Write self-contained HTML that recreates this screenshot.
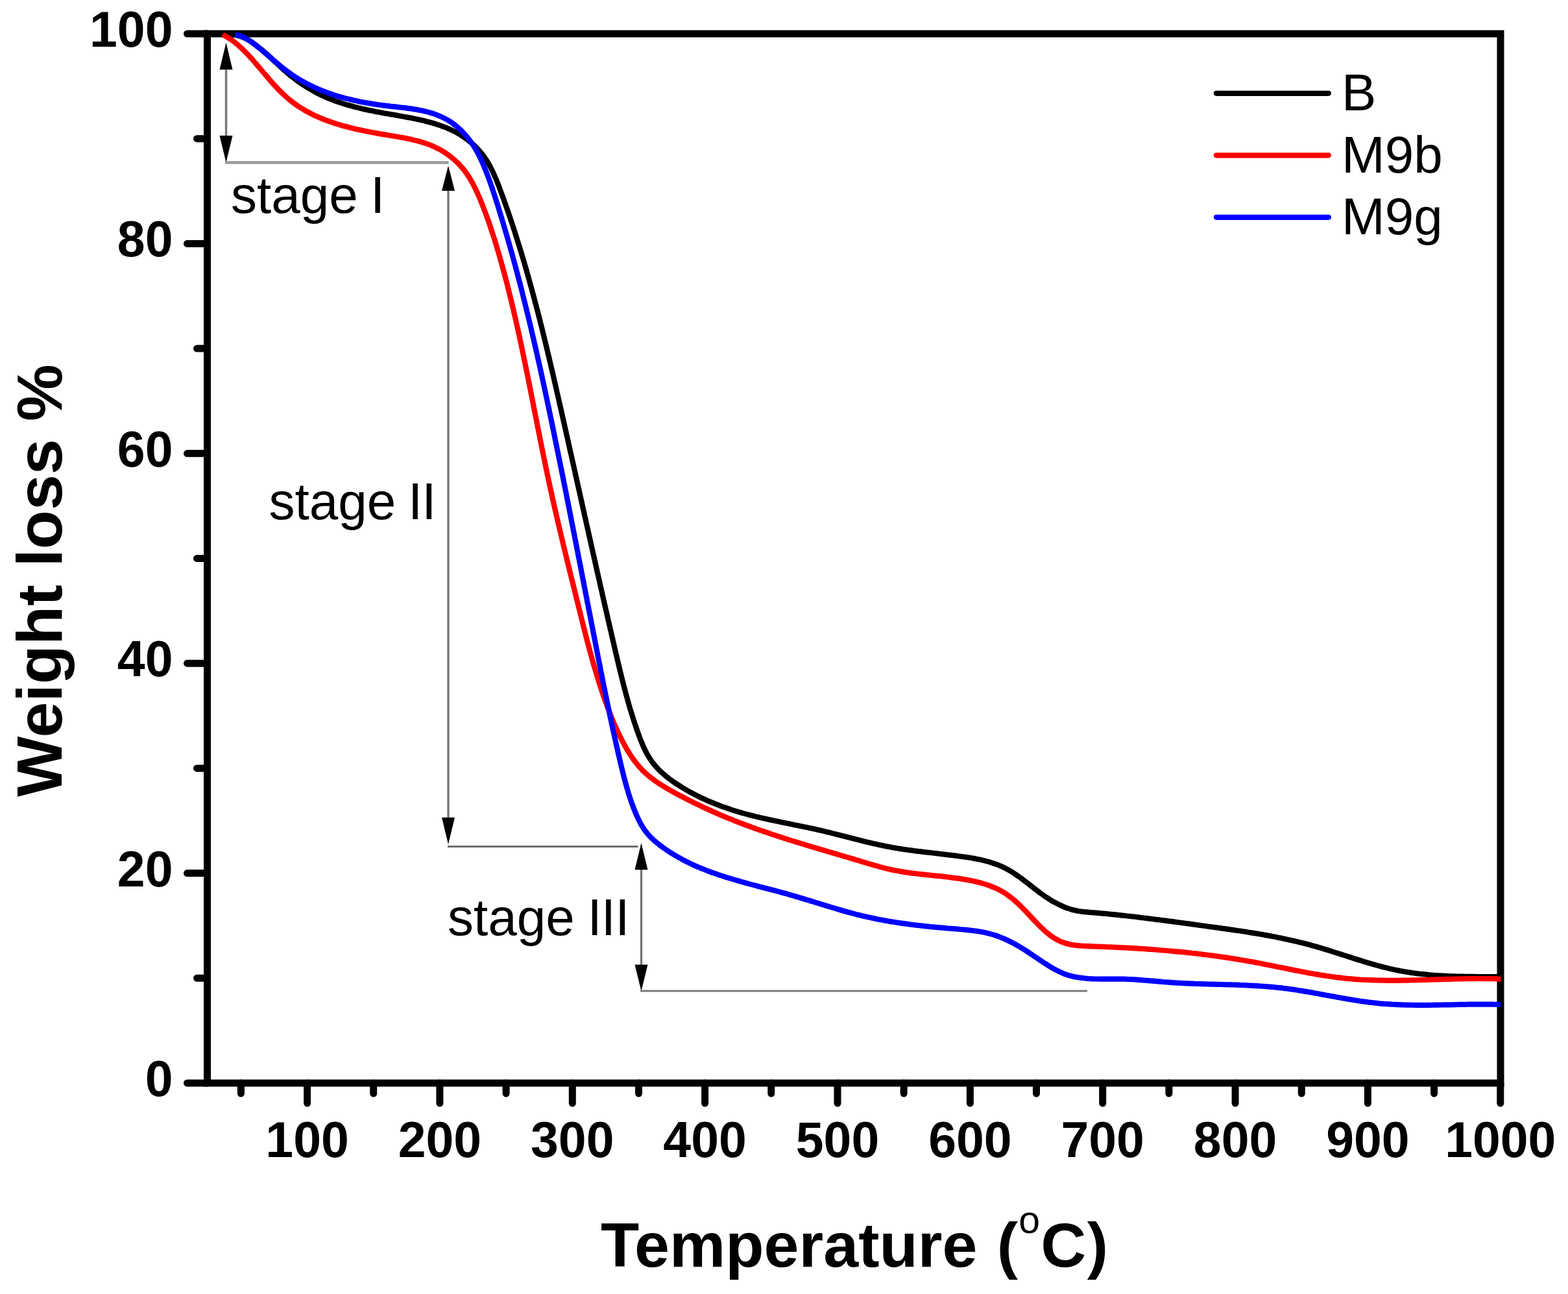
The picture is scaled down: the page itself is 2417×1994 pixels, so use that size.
<!DOCTYPE html><html><head><meta charset="utf-8"><title>TGA</title><style>html,body{margin:0;padding:0;background:#fff;}svg{display:block;}text{font-family:"Liberation Sans",Arial,sans-serif;}</style></head><body>
<svg width="2417" height="1994" viewBox="0 0 2417 1994">
<rect width="2417" height="1994" fill="#fff"/>
<line x1="348.5" y1="90.0" x2="348.5" y2="230.0" stroke="#777" stroke-width="3.4"/>
<path d="M348.5,65.7 L338.5,107.2 L358.5,107.2 Z" fill="#000"/>
<path d="M348.5,250.4 L338.5,209.0 L358.5,209.0 Z" fill="#000"/>
<line x1="347.0" y1="250.5" x2="691.5" y2="250.5" stroke="#999" stroke-width="4.5"/>
<line x1="691.0" y1="280.0" x2="691.0" y2="1280.0" stroke="#777" stroke-width="3.4"/>
<path d="M691.0,255.3 L681.0,294.0 L701.0,294.0 Z" fill="#000"/>
<path d="M691.0,1300.9 L681.0,1259.8 L701.0,1259.8 Z" fill="#000"/>
<line x1="690.0" y1="1304.5" x2="983.5" y2="1304.5" stroke="#6b6b6b" stroke-width="3.0"/>
<line x1="988.5" y1="1320.0" x2="988.5" y2="1500.0" stroke="#777" stroke-width="3.4"/>
<path d="M988.5,1299.0 L978.5,1340.2 L998.5,1340.2 Z" fill="#000"/>
<path d="M988.5,1527.3 L978.5,1486.6 L998.5,1486.6 Z" fill="#000"/>
<line x1="987.0" y1="1527.0" x2="1676.0" y2="1527.0" stroke="#7a7a7a" stroke-width="3.0"/>
<rect x="319.5" y="52.0" width="1993.5" height="1617.0" fill="none" stroke="#000" stroke-width="11"/>
<path d="M319.5,1669.0 H288.5 M319.5,1507.3 H303.5 M319.5,1345.6 H288.5 M319.5,1183.9 H303.5 M319.5,1022.2 H288.5 M319.5,860.5 H303.5 M319.5,698.8 H288.5 M319.5,537.1 H303.5 M319.5,375.4 H288.5 M319.5,213.7 H303.5 M319.5,52.0 H288.5 M371.4,1669.0 V1685.0 M473.6,1669.0 V1700.0 M575.7,1669.0 V1685.0 M677.9,1669.0 V1700.0 M780.1,1669.0 V1685.0 M882.3,1669.0 V1700.0 M984.5,1669.0 V1685.0 M1086.6,1669.0 V1700.0 M1188.8,1669.0 V1685.0 M1291.0,1669.0 V1700.0 M1393.2,1669.0 V1685.0 M1495.4,1669.0 V1700.0 M1597.5,1669.0 V1685.0 M1699.7,1669.0 V1700.0 M1801.9,1669.0 V1685.0 M1904.1,1669.0 V1700.0 M2006.3,1669.0 V1685.0 M2108.4,1669.0 V1700.0 M2210.6,1669.0 V1685.0 M2312.8,1669.0 V1700.0" stroke="#000" stroke-width="11" stroke-linecap="round" fill="none"/>
<path d="M355.2,54.0 C356.2,54.0 359.2,53.9 361.2,54.0 C363.2,54.2 365.1,54.5 367.0,54.9 C368.8,55.4 370.7,55.9 372.5,56.6 C374.3,57.3 376.1,58.0 377.9,58.9 C379.6,59.7 381.4,60.7 383.1,61.7 C384.8,62.7 386.4,63.8 388.1,64.9 C389.7,66.0 391.4,67.2 393.0,68.4 C394.6,69.6 396.2,70.8 397.8,72.0 C399.3,73.3 400.9,74.5 402.4,75.8 C404.0,77.1 405.5,78.4 407.0,79.7 C408.5,81.1 410.1,82.4 411.6,83.7 C413.1,85.1 414.5,86.5 416.0,87.8 C417.5,89.2 419.0,90.6 420.5,91.9 C422.0,93.3 423.4,94.7 424.9,96.1 C426.4,97.5 427.9,98.9 429.4,100.2 C430.9,101.6 432.3,103.0 433.8,104.3 C435.3,105.7 436.8,107.0 438.3,108.4 C439.9,109.7 441.4,111.0 442.9,112.3 C444.5,113.6 446.0,114.9 447.6,116.2 C449.1,117.5 450.7,118.7 452.3,119.9 C453.9,121.2 455.5,122.4 457.1,123.6 C458.7,124.8 460.3,125.9 462.0,127.1 C463.6,128.2 465.3,129.3 466.9,130.5 C468.6,131.6 470.3,132.6 471.9,133.7 C473.6,134.8 475.3,135.8 477.0,136.8 C478.7,137.8 480.5,138.8 482.2,139.8 C483.9,140.8 485.6,141.7 487.4,142.6 C489.1,143.5 490.9,144.4 492.7,145.3 C494.4,146.2 496.2,147.0 498.0,147.8 C499.8,148.7 501.6,149.5 503.4,150.2 C505.2,151.0 507.0,151.8 508.8,152.5 C510.7,153.2 512.5,153.9 514.3,154.6 C516.2,155.3 518.0,156.0 519.9,156.6 C521.7,157.3 523.6,157.9 525.5,158.5 C527.4,159.2 529.2,159.7 531.1,160.3 C533.0,160.9 534.9,161.5 536.8,162.0 C538.7,162.6 540.6,163.1 542.6,163.6 C544.5,164.1 546.4,164.7 548.3,165.1 C550.3,165.6 552.2,166.1 554.2,166.6 C556.1,167.0 558.0,167.5 560.0,167.9 C562.0,168.4 563.9,168.8 565.9,169.2 C567.9,169.7 569.8,170.1 571.8,170.5 C573.8,170.9 575.8,171.3 577.8,171.7 C579.7,172.1 581.7,172.5 583.7,172.8 C585.7,173.2 587.7,173.6 589.7,173.9 C591.7,174.3 593.7,174.7 595.8,175.0 C597.8,175.4 599.8,175.7 601.8,176.1 C603.8,176.4 605.8,176.8 607.9,177.1 C609.9,177.5 611.9,177.8 613.9,178.2 C615.9,178.5 618.0,178.9 620.0,179.3 C622.0,179.6 624.0,180.0 626.0,180.4 C628.1,180.7 630.1,181.1 632.1,181.5 C634.1,181.9 636.1,182.3 638.1,182.7 C640.1,183.1 642.1,183.5 644.1,183.9 C646.1,184.4 648.0,184.8 650.0,185.3 C652.0,185.7 654.0,186.2 655.9,186.7 C657.9,187.2 659.8,187.7 661.8,188.2 C663.7,188.7 665.6,189.3 667.5,189.8 C669.5,190.4 671.4,191.0 673.3,191.6 C675.1,192.2 677.0,192.8 678.9,193.5 C680.8,194.2 682.6,194.8 684.4,195.5 C686.3,196.2 688.1,197.0 689.9,197.7 C691.7,198.5 693.5,199.3 695.3,200.1 C697.0,201.0 698.8,201.8 700.5,202.7 C702.3,203.6 704.0,204.5 705.7,205.5 C707.4,206.4 709.1,207.4 710.7,208.4 C712.4,209.5 714.0,210.5 715.6,211.6 C717.2,212.8 718.8,213.9 720.4,215.1 C721.9,216.3 723.5,217.5 725.0,218.8 C726.5,220.0 728.0,221.3 729.5,222.7 C730.9,224.0 732.4,225.4 733.8,226.8 C735.2,228.3 736.5,229.7 737.9,231.2 C739.2,232.7 740.5,234.2 741.7,235.8 C743.0,237.3 744.2,238.9 745.4,240.5 C746.6,242.1 747.7,243.7 748.8,245.4 C749.9,247.1 751.0,248.7 752.0,250.4 C753.0,252.1 754.0,253.9 755.0,255.6 C755.9,257.4 756.8,259.1 757.7,260.9 C758.6,262.7 759.5,264.5 760.3,266.3 C761.2,268.1 762.0,270.0 762.8,271.8 C763.6,273.6 764.4,275.5 765.2,277.4 C765.9,279.2 766.7,281.1 767.4,283.0 C768.1,284.9 768.9,286.7 769.6,288.6 C770.3,290.5 771.0,292.4 771.7,294.3 C772.4,296.2 773.1,298.1 773.8,300.0 C774.5,301.9 775.2,303.8 775.9,305.7 C776.5,307.6 777.2,309.5 777.9,311.4 C778.6,313.3 779.2,315.2 779.9,317.1 C780.6,319.0 781.2,320.9 781.9,322.8 C782.6,324.7 783.2,326.6 783.9,328.5 C784.5,330.4 785.2,332.3 785.8,334.2 C786.5,336.1 787.1,338.0 787.7,339.9 C788.4,341.8 789.0,343.7 789.6,345.6 C790.3,347.5 790.9,349.4 791.5,351.4 C792.2,353.3 792.8,355.2 793.4,357.1 C794.0,359.0 794.6,360.9 795.2,362.8 C795.8,364.7 796.4,366.6 797.0,368.6 C797.6,370.5 798.2,372.4 798.8,374.3 C799.4,376.2 800.0,378.1 800.6,380.0 C801.2,382.0 801.8,383.9 802.4,385.8 C803.0,387.7 803.5,389.6 804.1,391.5 C804.7,393.5 805.3,395.4 805.8,397.3 C806.4,399.2 807.0,401.1 807.6,403.1 C808.1,405.0 808.7,406.9 809.2,408.8 C809.8,410.7 810.4,412.7 810.9,414.6 C811.5,416.5 812.0,418.4 812.6,420.4 C813.1,422.3 813.7,424.2 814.2,426.1 C814.7,428.1 815.3,430.0 815.8,431.9 C816.4,433.8 816.9,435.8 817.4,437.7 C818.0,439.6 818.5,441.6 819.0,443.5 C819.6,445.4 820.1,447.3 820.6,449.3 C821.1,451.2 821.6,453.1 822.2,455.1 C822.7,457.0 823.2,458.9 823.7,460.9 C824.2,462.8 824.7,464.7 825.2,466.7 C825.8,468.6 826.3,470.5 826.8,472.5 C827.3,474.4 827.8,476.3 828.3,478.3 C828.8,480.2 829.3,482.1 829.8,484.1 C830.3,486.0 830.8,487.9 831.3,489.9 C831.8,491.8 832.3,493.7 832.7,495.7 C833.2,497.6 833.7,499.6 834.2,501.5 C834.7,503.4 835.2,505.4 835.7,507.3 C836.1,509.3 836.6,511.2 837.1,513.1 C837.6,515.1 838.1,517.0 838.5,519.0 C839.0,520.9 839.5,522.8 840.0,524.8 C840.4,526.7 840.9,528.7 841.4,530.6 C841.8,532.5 842.3,534.5 842.8,536.4 C843.2,538.4 843.7,540.3 844.2,542.3 C844.6,544.2 845.1,546.1 845.6,548.1 C846.0,550.0 846.5,552.0 847.0,553.9 C847.4,555.9 847.9,557.8 848.3,559.8 C848.8,561.7 849.2,563.7 849.7,565.6 C850.2,567.6 850.6,569.5 851.1,571.4 C851.5,573.4 852.0,575.3 852.4,577.3 C852.9,579.2 853.3,581.2 853.8,583.1 C854.2,585.1 854.7,587.0 855.1,589.0 C855.6,590.9 856.0,592.9 856.5,594.8 C856.9,596.8 857.4,598.7 857.8,600.7 C858.2,602.6 858.7,604.6 859.1,606.5 C859.6,608.5 860.0,610.4 860.5,612.4 C860.9,614.3 861.4,616.3 861.8,618.2 C862.2,620.2 862.7,622.1 863.1,624.1 C863.6,626.0 864.0,628.0 864.5,629.9 C864.9,631.9 865.3,633.8 865.8,635.8 C866.2,637.8 866.7,639.7 867.1,641.7 C867.5,643.6 868.0,645.6 868.4,647.5 C868.9,649.5 869.3,651.4 869.7,653.4 C870.2,655.3 870.6,657.3 871.1,659.2 C871.5,661.2 871.9,663.1 872.4,665.1 C872.8,667.1 873.3,669.0 873.7,671.0 C874.1,672.9 874.6,674.9 875.0,676.8 C875.4,678.8 875.9,680.7 876.3,682.7 C876.8,684.7 877.2,686.6 877.6,688.6 C878.1,690.5 878.5,692.5 878.9,694.4 C879.4,696.4 879.8,698.3 880.3,700.3 C880.7,702.3 881.1,704.2 881.6,706.2 C882.0,708.1 882.4,710.1 882.9,712.0 C883.3,714.0 883.8,715.9 884.2,717.9 C884.6,719.9 885.1,721.8 885.5,723.8 C885.9,725.7 886.4,727.7 886.8,729.6 C887.2,731.6 887.7,733.6 888.1,735.5 C888.6,737.5 889.0,739.4 889.4,741.4 C889.9,743.3 890.3,745.3 890.7,747.3 C891.2,749.2 891.6,751.2 892.1,753.1 C892.5,755.1 892.9,757.0 893.4,759.0 C893.8,761.0 894.2,762.9 894.7,764.9 C895.1,766.8 895.5,768.8 896.0,770.7 C896.4,772.7 896.9,774.7 897.3,776.6 C897.7,778.6 898.2,780.5 898.6,782.5 C899.0,784.4 899.5,786.4 899.9,788.4 C900.3,790.3 900.8,792.3 901.2,794.2 C901.7,796.2 902.1,798.1 902.5,800.1 C903.0,802.1 903.4,804.0 903.8,806.0 C904.3,807.9 904.7,809.9 905.1,811.8 C905.6,813.8 906.0,815.7 906.5,817.7 C906.9,819.7 907.3,821.6 907.8,823.6 C908.2,825.5 908.6,827.5 909.1,829.4 C909.5,831.4 910.0,833.4 910.4,835.3 C910.8,837.3 911.3,839.2 911.7,841.2 C912.1,843.1 912.6,845.1 913.0,847.0 C913.5,849.0 913.9,851.0 914.3,852.9 C914.8,854.9 915.2,856.8 915.7,858.8 C916.1,860.7 916.5,862.7 917.0,864.6 C917.4,866.6 917.9,868.6 918.3,870.5 C918.7,872.5 919.2,874.4 919.6,876.4 C920.1,878.3 920.5,880.3 920.9,882.2 C921.4,884.2 921.8,886.1 922.3,888.1 C922.7,890.0 923.1,892.0 923.6,894.0 C924.0,895.9 924.5,897.9 924.9,899.8 C925.3,901.8 925.8,903.7 926.2,905.7 C926.7,907.6 927.1,909.6 927.6,911.5 C928.0,913.5 928.4,915.4 928.9,917.4 C929.3,919.3 929.8,921.3 930.2,923.2 C930.7,925.2 931.1,927.1 931.5,929.1 C932.0,931.0 932.4,933.0 932.9,934.9 C933.3,936.9 933.8,938.8 934.2,940.8 C934.7,942.7 935.1,944.7 935.6,946.6 C936.0,948.6 936.4,950.5 936.9,952.5 C937.3,954.4 937.8,956.4 938.2,958.3 C938.7,960.3 939.1,962.2 939.6,964.2 C940.0,966.1 940.5,968.1 940.9,970.0 C941.4,972.0 941.8,973.9 942.3,975.9 C942.7,977.8 943.2,979.8 943.6,981.7 C944.1,983.7 944.5,985.6 945.0,987.5 C945.4,989.5 945.9,991.4 946.3,993.4 C946.8,995.3 947.2,997.3 947.7,999.2 C948.1,1001.2 948.6,1003.1 949.0,1005.0 C949.5,1007.0 949.9,1008.9 950.4,1010.9 C950.9,1012.8 951.3,1014.8 951.8,1016.7 C952.2,1018.6 952.7,1020.6 953.1,1022.5 C953.6,1024.5 954.1,1026.4 954.5,1028.4 C955.0,1030.3 955.5,1032.2 955.9,1034.2 C956.4,1036.1 956.9,1038.0 957.4,1040.0 C957.8,1041.9 958.3,1043.9 958.8,1045.8 C959.3,1047.7 959.8,1049.7 960.3,1051.6 C960.7,1053.5 961.2,1055.5 961.7,1057.4 C962.2,1059.4 962.7,1061.3 963.3,1063.2 C963.8,1065.2 964.3,1067.1 964.8,1069.0 C965.3,1071.0 965.8,1072.9 966.4,1074.8 C966.9,1076.8 967.4,1078.7 968.0,1080.6 C968.5,1082.5 969.1,1084.5 969.6,1086.4 C970.2,1088.3 970.8,1090.3 971.3,1092.2 C971.9,1094.1 972.5,1096.0 973.1,1098.0 C973.7,1099.9 974.3,1101.8 974.9,1103.7 C975.5,1105.7 976.1,1107.6 976.7,1109.5 C977.3,1111.4 978.0,1113.4 978.6,1115.3 C979.2,1117.2 979.9,1119.1 980.6,1121.0 C981.2,1123.0 981.9,1124.9 982.6,1126.8 C983.2,1128.7 983.9,1130.6 984.6,1132.5 C985.3,1134.5 986.0,1136.4 986.8,1138.3 C987.5,1140.2 988.3,1142.1 989.0,1143.9 C989.8,1145.8 990.6,1147.7 991.4,1149.5 C992.2,1151.4 993.1,1153.2 993.9,1155.0 C994.8,1156.8 995.7,1158.6 996.6,1160.4 C997.6,1162.1 998.5,1163.8 999.6,1165.5 C1000.6,1167.2 1001.6,1168.9 1002.7,1170.5 C1003.8,1172.1 1004.9,1173.7 1006.1,1175.2 C1007.3,1176.8 1008.5,1178.3 1009.8,1179.8 C1011.0,1181.2 1012.3,1182.7 1013.6,1184.1 C1015.0,1185.5 1016.3,1186.9 1017.7,1188.2 C1019.1,1189.5 1020.5,1190.9 1022.0,1192.1 C1023.4,1193.4 1024.9,1194.7 1026.4,1195.9 C1027.9,1197.2 1029.5,1198.4 1031.0,1199.6 C1032.6,1200.7 1034.2,1201.9 1035.8,1203.1 C1037.4,1204.2 1039.0,1205.3 1040.6,1206.5 C1042.2,1207.6 1043.9,1208.7 1045.6,1209.7 C1047.2,1210.8 1048.9,1211.9 1050.6,1212.9 C1052.3,1214.0 1054.0,1215.0 1055.8,1216.0 C1057.5,1217.0 1059.2,1218.0 1061.0,1219.0 C1062.7,1220.0 1064.5,1221.0 1066.3,1221.9 C1068.0,1222.9 1069.8,1223.8 1071.6,1224.7 C1073.4,1225.7 1075.2,1226.6 1077.0,1227.5 C1078.9,1228.4 1080.7,1229.2 1082.5,1230.1 C1084.4,1230.9 1086.2,1231.8 1088.1,1232.6 C1089.9,1233.5 1091.8,1234.3 1093.7,1235.1 C1095.5,1235.9 1097.4,1236.7 1099.3,1237.4 C1101.2,1238.2 1103.0,1238.9 1104.9,1239.7 C1106.8,1240.4 1108.7,1241.1 1110.6,1241.9 C1112.5,1242.6 1114.4,1243.3 1116.3,1243.9 C1118.3,1244.6 1120.2,1245.3 1122.1,1245.9 C1124.0,1246.6 1125.9,1247.2 1127.8,1247.8 C1129.7,1248.5 1131.7,1249.1 1133.6,1249.7 C1135.5,1250.3 1137.4,1250.8 1139.4,1251.4 C1141.3,1252.0 1143.2,1252.5 1145.1,1253.1 C1147.1,1253.6 1149.0,1254.1 1150.9,1254.6 C1152.8,1255.2 1154.8,1255.7 1156.7,1256.2 C1158.6,1256.7 1160.6,1257.2 1162.5,1257.6 C1164.4,1258.1 1166.4,1258.6 1168.3,1259.1 C1170.2,1259.5 1172.2,1260.0 1174.1,1260.4 C1176.0,1260.9 1178.0,1261.3 1179.9,1261.7 C1181.9,1262.2 1183.8,1262.6 1185.7,1263.0 C1187.7,1263.5 1189.6,1263.9 1191.6,1264.3 C1193.5,1264.7 1195.4,1265.1 1197.4,1265.5 C1199.3,1265.9 1201.3,1266.3 1203.2,1266.7 C1205.2,1267.1 1207.1,1267.5 1209.1,1267.9 C1211.0,1268.3 1213.0,1268.7 1214.9,1269.1 C1216.8,1269.5 1218.8,1269.9 1220.7,1270.3 C1222.7,1270.7 1224.6,1271.1 1226.6,1271.5 C1228.5,1271.9 1230.5,1272.3 1232.4,1272.7 C1234.4,1273.1 1236.3,1273.5 1238.3,1273.9 C1240.2,1274.3 1242.2,1274.7 1244.1,1275.1 C1246.1,1275.5 1248.0,1275.9 1250.0,1276.3 C1252.0,1276.8 1253.9,1277.2 1255.9,1277.6 C1257.8,1278.0 1259.8,1278.5 1261.7,1278.9 C1263.7,1279.4 1265.6,1279.8 1267.6,1280.3 C1269.5,1280.7 1271.5,1281.2 1273.4,1281.7 C1275.4,1282.1 1277.3,1282.6 1279.3,1283.1 C1281.2,1283.6 1283.2,1284.1 1285.1,1284.6 C1287.1,1285.1 1289.0,1285.5 1291.0,1286.0 C1292.9,1286.5 1294.9,1287.0 1296.8,1287.5 C1298.8,1288.0 1300.7,1288.5 1302.7,1289.0 C1304.7,1289.5 1306.6,1290.0 1308.6,1290.5 C1310.5,1291.0 1312.5,1291.5 1314.4,1292.0 C1316.4,1292.5 1318.3,1293.0 1320.3,1293.5 C1322.2,1294.0 1324.2,1294.5 1326.2,1295.0 C1328.1,1295.5 1330.1,1296.0 1332.0,1296.5 C1334.0,1296.9 1335.9,1297.4 1337.9,1297.9 C1339.9,1298.4 1341.8,1298.8 1343.8,1299.3 C1345.7,1299.7 1347.7,1300.2 1349.6,1300.6 C1351.6,1301.1 1353.6,1301.5 1355.5,1301.9 C1357.5,1302.3 1359.4,1302.8 1361.4,1303.2 C1363.4,1303.6 1365.3,1304.0 1367.3,1304.4 C1369.3,1304.7 1371.2,1305.1 1373.2,1305.5 C1375.1,1305.8 1377.1,1306.2 1379.1,1306.5 C1381.0,1306.9 1383.0,1307.2 1385.0,1307.5 C1386.9,1307.8 1388.9,1308.1 1390.9,1308.5 C1392.9,1308.8 1394.8,1309.0 1396.8,1309.3 C1398.8,1309.6 1400.7,1309.9 1402.7,1310.2 C1404.7,1310.4 1406.7,1310.7 1408.6,1311.0 C1410.6,1311.2 1412.6,1311.5 1414.5,1311.7 C1416.5,1312.0 1418.5,1312.2 1420.5,1312.4 C1422.5,1312.7 1424.4,1312.9 1426.4,1313.2 C1428.4,1313.4 1430.4,1313.6 1432.4,1313.8 C1434.3,1314.1 1436.3,1314.3 1438.3,1314.5 C1440.3,1314.8 1442.3,1315.0 1444.3,1315.2 C1446.3,1315.4 1448.2,1315.7 1450.2,1315.9 C1452.2,1316.1 1454.2,1316.4 1456.2,1316.6 C1458.2,1316.8 1460.2,1317.1 1462.2,1317.3 C1464.2,1317.5 1466.2,1317.8 1468.2,1318.0 C1470.2,1318.3 1472.2,1318.5 1474.2,1318.8 C1476.2,1319.1 1478.2,1319.3 1480.2,1319.6 C1482.2,1319.9 1484.2,1320.1 1486.2,1320.4 C1488.2,1320.7 1490.2,1321.0 1492.2,1321.3 C1494.2,1321.6 1496.2,1322.0 1498.2,1322.3 C1500.2,1322.7 1502.1,1323.0 1504.1,1323.4 C1506.1,1323.8 1508.1,1324.2 1510.1,1324.6 C1512.0,1325.0 1514.0,1325.4 1515.9,1325.9 C1517.9,1326.4 1519.8,1326.9 1521.7,1327.4 C1523.7,1327.9 1525.6,1328.5 1527.5,1329.1 C1529.4,1329.6 1531.3,1330.3 1533.2,1330.9 C1535.0,1331.6 1536.9,1332.3 1538.7,1333.0 C1540.6,1333.7 1542.4,1334.5 1544.2,1335.3 C1546.0,1336.1 1547.8,1336.9 1549.5,1337.8 C1551.3,1338.7 1553.0,1339.7 1554.8,1340.7 C1556.5,1341.6 1558.2,1342.7 1559.9,1343.7 C1561.6,1344.8 1563.2,1345.8 1564.9,1347.0 C1566.6,1348.1 1568.2,1349.2 1569.8,1350.4 C1571.5,1351.5 1573.1,1352.7 1574.7,1353.9 C1576.4,1355.1 1578.0,1356.4 1579.6,1357.6 C1581.2,1358.8 1582.8,1360.1 1584.4,1361.3 C1586.0,1362.6 1587.6,1363.8 1589.2,1365.1 C1590.8,1366.3 1592.4,1367.6 1594.0,1368.8 C1595.6,1370.1 1597.2,1371.3 1598.9,1372.5 C1600.5,1373.8 1602.1,1375.0 1603.7,1376.2 C1605.4,1377.4 1607.0,1378.6 1608.7,1379.8 C1610.3,1380.9 1612.0,1382.1 1613.7,1383.2 C1615.3,1384.3 1617.0,1385.4 1618.8,1386.5 C1620.5,1387.5 1622.2,1388.6 1624.0,1389.6 C1625.7,1390.5 1627.5,1391.5 1629.3,1392.4 C1631.0,1393.3 1632.8,1394.2 1634.6,1395.0 C1636.4,1395.9 1638.3,1396.7 1640.1,1397.4 C1641.9,1398.2 1643.8,1398.9 1645.7,1399.5 C1647.5,1400.2 1649.4,1400.8 1651.3,1401.3 C1653.1,1401.9 1655.0,1402.4 1656.9,1402.8 C1658.8,1403.3 1660.7,1403.6 1662.7,1404.0 C1664.6,1404.3 1666.5,1404.6 1668.4,1404.8 C1670.4,1405.0 1672.3,1405.2 1674.2,1405.4 C1676.2,1405.6 1678.1,1405.7 1680.1,1405.9 C1682.0,1406.0 1684.0,1406.2 1685.9,1406.3 C1687.9,1406.5 1689.8,1406.7 1691.8,1406.8 C1693.8,1407.0 1695.7,1407.2 1697.7,1407.4 C1699.7,1407.5 1701.6,1407.7 1703.6,1407.9 C1705.6,1408.1 1707.5,1408.3 1709.5,1408.5 C1711.5,1408.7 1713.5,1408.9 1715.5,1409.1 C1717.5,1409.3 1719.4,1409.5 1721.4,1409.7 C1723.4,1409.9 1725.4,1410.1 1727.4,1410.3 C1729.4,1410.5 1731.4,1410.8 1733.4,1411.0 C1735.4,1411.2 1737.4,1411.4 1739.4,1411.7 C1741.4,1411.9 1743.4,1412.1 1745.4,1412.3 C1747.4,1412.6 1749.4,1412.8 1751.4,1413.0 C1753.4,1413.3 1755.4,1413.5 1757.4,1413.8 C1759.4,1414.0 1761.4,1414.2 1763.4,1414.5 C1765.4,1414.7 1767.5,1415.0 1769.5,1415.2 C1771.5,1415.5 1773.5,1415.7 1775.5,1416.0 C1777.5,1416.2 1779.5,1416.5 1781.5,1416.8 C1783.6,1417.0 1785.6,1417.3 1787.6,1417.5 C1789.6,1417.8 1791.6,1418.1 1793.6,1418.3 C1795.7,1418.6 1797.7,1418.8 1799.7,1419.1 C1801.7,1419.4 1803.7,1419.6 1805.7,1419.9 C1807.7,1420.2 1809.8,1420.5 1811.8,1420.7 C1813.8,1421.0 1815.8,1421.3 1817.8,1421.5 C1819.8,1421.8 1821.8,1422.1 1823.8,1422.3 C1825.8,1422.6 1827.9,1422.9 1829.9,1423.2 C1831.9,1423.4 1833.9,1423.7 1835.9,1424.0 C1837.9,1424.3 1839.9,1424.5 1841.9,1424.8 C1843.9,1425.1 1845.9,1425.4 1847.9,1425.6 C1849.9,1425.9 1851.9,1426.2 1853.9,1426.5 C1855.9,1426.7 1857.9,1427.0 1859.9,1427.3 C1861.9,1427.6 1863.9,1427.8 1865.9,1428.1 C1867.9,1428.4 1869.8,1428.6 1871.8,1428.9 C1873.8,1429.2 1875.8,1429.5 1877.8,1429.7 C1879.8,1430.0 1881.7,1430.3 1883.7,1430.6 C1885.7,1430.8 1887.7,1431.1 1889.6,1431.4 C1891.6,1431.7 1893.6,1432.0 1895.6,1432.2 C1897.5,1432.5 1899.5,1432.8 1901.5,1433.1 C1903.4,1433.4 1905.4,1433.7 1907.4,1434.0 C1909.3,1434.2 1911.3,1434.5 1913.3,1434.8 C1915.2,1435.1 1917.2,1435.4 1919.2,1435.7 C1921.1,1436.0 1923.1,1436.3 1925.0,1436.7 C1927.0,1437.0 1928.9,1437.3 1930.9,1437.6 C1932.9,1437.9 1934.8,1438.2 1936.8,1438.6 C1938.7,1438.9 1940.7,1439.2 1942.6,1439.5 C1944.6,1439.9 1946.5,1440.2 1948.5,1440.6 C1950.4,1440.9 1952.4,1441.3 1954.3,1441.6 C1956.3,1442.0 1958.2,1442.3 1960.1,1442.7 C1962.1,1443.1 1964.0,1443.4 1966.0,1443.8 C1967.9,1444.2 1969.9,1444.6 1971.8,1445.0 C1973.7,1445.4 1975.7,1445.8 1977.6,1446.2 C1979.6,1446.6 1981.5,1447.0 1983.4,1447.4 C1985.4,1447.8 1987.3,1448.2 1989.2,1448.7 C1991.2,1449.1 1993.1,1449.5 1995.1,1450.0 C1997.0,1450.4 1998.9,1450.9 2000.9,1451.4 C2002.8,1451.8 2004.7,1452.3 2006.7,1452.8 C2008.6,1453.3 2010.5,1453.8 2012.5,1454.3 C2014.4,1454.8 2016.3,1455.3 2018.3,1455.8 C2020.2,1456.3 2022.1,1456.8 2024.0,1457.4 C2026.0,1457.9 2027.9,1458.5 2029.8,1459.0 C2031.8,1459.6 2033.7,1460.1 2035.6,1460.7 C2037.6,1461.3 2039.5,1461.9 2041.4,1462.5 C2043.4,1463.0 2045.3,1463.6 2047.2,1464.2 C2049.1,1464.8 2051.1,1465.4 2053.0,1466.0 C2054.9,1466.7 2056.9,1467.3 2058.8,1467.9 C2060.7,1468.5 2062.7,1469.1 2064.6,1469.7 C2066.5,1470.4 2068.5,1471.0 2070.4,1471.6 C2072.3,1472.2 2074.2,1472.8 2076.2,1473.5 C2078.1,1474.1 2080.0,1474.7 2082.0,1475.3 C2083.9,1475.9 2085.8,1476.6 2087.8,1477.2 C2089.7,1477.8 2091.6,1478.4 2093.6,1479.0 C2095.5,1479.6 2097.4,1480.2 2099.4,1480.8 C2101.3,1481.4 2103.2,1482.0 2105.2,1482.6 C2107.1,1483.2 2109.1,1483.7 2111.0,1484.3 C2112.9,1484.9 2114.9,1485.4 2116.8,1486.0 C2118.7,1486.6 2120.7,1487.1 2122.6,1487.6 C2124.6,1488.2 2126.5,1488.7 2128.5,1489.2 C2130.4,1489.7 2132.3,1490.2 2134.3,1490.7 C2136.2,1491.2 2138.2,1491.7 2140.1,1492.1 C2142.1,1492.6 2144.0,1493.1 2146.0,1493.5 C2147.9,1493.9 2149.9,1494.3 2151.8,1494.8 C2153.8,1495.2 2155.7,1495.5 2157.7,1495.9 C2159.6,1496.3 2161.6,1496.6 2163.5,1497.0 C2165.5,1497.3 2167.4,1497.7 2169.4,1498.0 C2171.3,1498.3 2173.3,1498.6 2175.3,1498.9 C2177.2,1499.2 2179.2,1499.4 2181.1,1499.7 C2183.1,1500.0 2185.1,1500.2 2187.0,1500.5 C2189.0,1500.7 2191.0,1500.9 2192.9,1501.1 C2194.9,1501.3 2196.9,1501.5 2198.8,1501.7 C2200.8,1501.9 2202.8,1502.1 2204.8,1502.3 C2206.7,1502.4 2208.7,1502.6 2210.7,1502.8 C2212.7,1502.9 2214.6,1503.0 2216.6,1503.2 C2218.6,1503.3 2220.6,1503.4 2222.6,1503.5 C2224.6,1503.6 2226.5,1503.7 2228.5,1503.8 C2230.5,1503.9 2232.5,1504.0 2234.5,1504.1 C2236.5,1504.2 2238.5,1504.3 2240.5,1504.3 C2242.5,1504.4 2244.5,1504.4 2246.5,1504.5 C2248.5,1504.5 2250.5,1504.6 2252.5,1504.6 C2254.5,1504.7 2256.5,1504.7 2258.5,1504.8 C2260.5,1504.8 2262.5,1504.8 2264.5,1504.8 C2266.6,1504.9 2268.6,1504.9 2270.6,1504.9 C2272.6,1504.9 2274.6,1504.9 2276.6,1505.0 C2278.7,1505.0 2280.7,1505.0 2282.7,1505.0 C2284.7,1505.0 2286.8,1505.0 2288.8,1505.0 C2290.8,1505.0 2292.9,1505.0 2294.9,1505.0 C2296.9,1505.0 2299.0,1505.1 2301.0,1505.1 C2303.1,1505.1 2305.1,1505.1 2307.2,1505.1 C2309.2,1505.1 2312.3,1505.1 2313.3,1505.1" fill="none" stroke="#000" stroke-width="8.2" stroke-linejoin="round" stroke-linecap="butt"/>
<path d="M343.2,53.4 C344.1,53.9 346.6,55.1 348.3,56.1 C349.9,57.0 351.5,58.0 353.1,59.0 C354.7,60.1 356.3,61.2 357.9,62.3 C359.4,63.4 361.0,64.6 362.5,65.8 C364.0,67.0 365.5,68.3 367.0,69.5 C368.5,70.8 369.9,72.1 371.4,73.5 C372.8,74.8 374.2,76.2 375.7,77.6 C377.1,79.0 378.5,80.4 379.9,81.9 C381.3,83.3 382.7,84.8 384.1,86.3 C385.4,87.8 386.8,89.3 388.2,90.8 C389.5,92.3 390.9,93.9 392.2,95.4 C393.6,97.0 394.9,98.5 396.2,100.1 C397.6,101.6 398.9,103.2 400.2,104.8 C401.6,106.3 402.9,107.9 404.2,109.5 C405.5,111.1 406.9,112.6 408.2,114.2 C409.5,115.8 410.9,117.3 412.2,118.9 C413.5,120.5 414.9,122.0 416.2,123.6 C417.6,125.1 418.9,126.6 420.3,128.2 C421.6,129.7 423.0,131.2 424.4,132.7 C425.8,134.2 427.1,135.6 428.5,137.1 C429.9,138.6 431.3,140.0 432.8,141.4 C434.2,142.8 435.6,144.2 437.1,145.6 C438.5,146.9 440.0,148.3 441.5,149.6 C443.0,150.9 444.5,152.2 446.0,153.5 C447.5,154.7 449.0,155.9 450.6,157.1 C452.2,158.3 453.7,159.5 455.3,160.6 C456.9,161.8 458.5,162.9 460.1,163.9 C461.8,165.0 463.4,166.1 465.1,167.1 C466.7,168.1 468.4,169.1 470.1,170.1 C471.8,171.1 473.5,172.0 475.2,172.9 C476.9,173.9 478.6,174.7 480.4,175.6 C482.1,176.5 483.9,177.4 485.6,178.2 C487.4,179.0 489.2,179.8 491.0,180.6 C492.8,181.4 494.6,182.1 496.4,182.9 C498.2,183.6 500.1,184.4 501.9,185.1 C503.7,185.8 505.6,186.4 507.5,187.1 C509.3,187.8 511.2,188.4 513.1,189.1 C515.0,189.7 516.9,190.3 518.8,190.9 C520.7,191.5 522.6,192.1 524.5,192.6 C526.4,193.2 528.4,193.7 530.3,194.3 C532.2,194.8 534.2,195.3 536.1,195.8 C538.1,196.3 540.0,196.8 542.0,197.3 C544.0,197.8 545.9,198.3 547.9,198.7 C549.9,199.2 551.9,199.6 553.9,200.0 C555.9,200.5 557.9,200.9 559.9,201.3 C561.9,201.7 563.9,202.1 565.9,202.5 C567.9,202.9 569.9,203.3 571.9,203.7 C573.9,204.1 576.0,204.4 578.0,204.8 C580.0,205.2 582.0,205.5 584.0,205.9 C586.1,206.3 588.1,206.6 590.1,206.9 C592.2,207.3 594.2,207.6 596.2,208.0 C598.3,208.3 600.3,208.6 602.3,209.0 C604.4,209.3 606.4,209.7 608.4,210.0 C610.4,210.3 612.5,210.7 614.5,211.0 C616.5,211.4 618.5,211.8 620.5,212.1 C622.5,212.5 624.5,212.9 626.5,213.3 C628.5,213.7 630.5,214.1 632.5,214.5 C634.5,215.0 636.4,215.4 638.4,215.9 C640.3,216.3 642.3,216.8 644.2,217.3 C646.1,217.9 648.1,218.4 650.0,219.0 C651.9,219.5 653.8,220.1 655.6,220.8 C657.5,221.4 659.4,222.0 661.2,222.7 C663.1,223.4 664.9,224.2 666.7,224.9 C668.5,225.7 670.3,226.5 672.0,227.4 C673.8,228.2 675.6,229.1 677.3,230.0 C679.0,230.9 680.7,231.9 682.4,232.9 C684.0,233.9 685.7,235.0 687.3,236.1 C688.9,237.2 690.5,238.3 692.1,239.5 C693.7,240.7 695.2,241.9 696.7,243.1 C698.3,244.4 699.7,245.6 701.2,247.0 C702.6,248.3 704.1,249.6 705.5,251.0 C706.9,252.4 708.2,253.8 709.5,255.3 C710.9,256.7 712.2,258.2 713.4,259.8 C714.7,261.3 715.9,262.8 717.1,264.4 C718.3,266.0 719.4,267.6 720.5,269.2 C721.6,270.9 722.7,272.6 723.8,274.3 C724.8,275.9 725.8,277.7 726.8,279.4 C727.8,281.1 728.8,282.9 729.7,284.7 C730.6,286.5 731.5,288.3 732.4,290.1 C733.3,291.9 734.2,293.7 735.0,295.5 C735.9,297.4 736.7,299.2 737.5,301.1 C738.3,303.0 739.1,304.8 739.9,306.7 C740.7,308.6 741.4,310.5 742.2,312.3 C743.0,314.2 743.7,316.1 744.4,318.0 C745.2,319.9 745.9,321.8 746.6,323.7 C747.3,325.6 748.1,327.4 748.8,329.3 C749.5,331.2 750.2,333.1 750.8,335.0 C751.5,336.9 752.2,338.8 752.9,340.7 C753.5,342.6 754.2,344.5 754.9,346.4 C755.5,348.3 756.2,350.2 756.8,352.2 C757.4,354.1 758.1,356.0 758.7,357.9 C759.3,359.8 759.9,361.7 760.5,363.6 C761.2,365.5 761.8,367.4 762.4,369.3 C763.0,371.3 763.5,373.2 764.1,375.1 C764.7,377.0 765.3,378.9 765.9,380.9 C766.5,382.8 767.0,384.7 767.6,386.6 C768.2,388.5 768.7,390.5 769.3,392.4 C769.8,394.3 770.4,396.2 770.9,398.2 C771.5,400.1 772.0,402.0 772.6,403.9 C773.1,405.9 773.6,407.8 774.2,409.7 C774.7,411.6 775.2,413.6 775.7,415.5 C776.3,417.4 776.8,419.4 777.3,421.3 C777.8,423.2 778.3,425.2 778.8,427.1 C779.4,429.0 779.9,431.0 780.4,432.9 C780.9,434.8 781.4,436.8 781.9,438.7 C782.4,440.6 782.8,442.6 783.3,444.5 C783.8,446.4 784.3,448.4 784.8,450.3 C785.3,452.3 785.8,454.2 786.2,456.1 C786.7,458.1 787.2,460.0 787.7,462.0 C788.1,463.9 788.6,465.9 789.1,467.8 C789.5,469.7 790.0,471.7 790.5,473.6 C790.9,475.6 791.4,477.5 791.8,479.5 C792.3,481.4 792.7,483.3 793.2,485.3 C793.6,487.2 794.1,489.2 794.5,491.1 C795.0,493.1 795.4,495.0 795.8,497.0 C796.3,498.9 796.7,500.9 797.2,502.8 C797.6,504.8 798.0,506.7 798.5,508.7 C798.9,510.6 799.3,512.6 799.8,514.5 C800.2,516.5 800.6,518.4 801.0,520.4 C801.4,522.3 801.9,524.3 802.3,526.2 C802.7,528.2 803.1,530.2 803.5,532.1 C804.0,534.1 804.4,536.0 804.8,538.0 C805.2,539.9 805.6,541.9 806.0,543.8 C806.4,545.8 806.8,547.7 807.2,549.7 C807.7,551.7 808.1,553.6 808.5,555.6 C808.9,557.5 809.3,559.5 809.7,561.5 C810.1,563.4 810.5,565.4 810.9,567.3 C811.3,569.3 811.7,571.2 812.1,573.2 C812.5,575.2 812.9,577.1 813.3,579.1 C813.7,581.0 814.0,583.0 814.4,585.0 C814.8,586.9 815.2,588.9 815.6,590.8 C816.0,592.8 816.4,594.8 816.8,596.7 C817.2,598.7 817.6,600.7 818.0,602.6 C818.4,604.6 818.7,606.5 819.1,608.5 C819.5,610.5 819.9,612.4 820.3,614.4 C820.7,616.4 821.1,618.3 821.5,620.3 C821.8,622.3 822.2,624.2 822.6,626.2 C823.0,628.1 823.4,630.1 823.8,632.1 C824.2,634.0 824.6,636.0 824.9,638.0 C825.3,639.9 825.7,641.9 826.1,643.9 C826.5,645.8 826.9,647.8 827.3,649.8 C827.7,651.7 828.0,653.7 828.4,655.6 C828.8,657.6 829.2,659.6 829.6,661.5 C830.0,663.5 830.4,665.5 830.8,667.4 C831.2,669.4 831.6,671.4 831.9,673.3 C832.3,675.3 832.7,677.3 833.1,679.2 C833.5,681.2 833.9,683.2 834.3,685.1 C834.7,687.1 835.1,689.1 835.5,691.0 C835.9,693.0 836.3,695.0 836.7,696.9 C837.1,698.9 837.5,700.8 837.9,702.8 C838.3,704.8 838.7,706.7 839.1,708.7 C839.5,710.7 839.9,712.6 840.3,714.6 C840.7,716.6 841.1,718.5 841.5,720.5 C841.9,722.5 842.3,724.4 842.8,726.4 C843.2,728.4 843.6,730.3 844.0,732.3 C844.4,734.2 844.8,736.2 845.2,738.2 C845.7,740.1 846.1,742.1 846.5,744.1 C846.9,746.0 847.4,748.0 847.8,750.0 C848.2,751.9 848.6,753.9 849.1,755.8 C849.5,757.8 849.9,759.8 850.4,761.7 C850.8,763.7 851.2,765.7 851.7,767.6 C852.1,769.6 852.5,771.5 853.0,773.5 C853.4,775.5 853.9,777.4 854.3,779.4 C854.8,781.3 855.2,783.3 855.7,785.3 C856.1,787.2 856.6,789.2 857.0,791.2 C857.5,793.1 857.9,795.1 858.4,797.0 C858.8,799.0 859.3,800.9 859.7,802.9 C860.2,804.9 860.6,806.8 861.1,808.8 C861.6,810.7 862.0,812.7 862.5,814.7 C862.9,816.6 863.4,818.6 863.9,820.5 C864.3,822.5 864.8,824.4 865.3,826.4 C865.7,828.3 866.2,830.3 866.7,832.3 C867.1,834.2 867.6,836.2 868.1,838.1 C868.5,840.1 869.0,842.0 869.5,844.0 C870.0,845.9 870.4,847.9 870.9,849.8 C871.4,851.8 871.8,853.7 872.3,855.7 C872.8,857.6 873.3,859.6 873.7,861.5 C874.2,863.5 874.7,865.5 875.2,867.4 C875.7,869.4 876.1,871.3 876.6,873.2 C877.1,875.2 877.6,877.1 878.0,879.1 C878.5,881.0 879.0,883.0 879.5,884.9 C880.0,886.9 880.4,888.8 880.9,890.8 C881.4,892.7 881.9,894.7 882.4,896.6 C882.8,898.6 883.3,900.5 883.8,902.4 C884.3,904.4 884.8,906.3 885.3,908.3 C885.7,910.2 886.2,912.2 886.7,914.1 C887.2,916.0 887.7,918.0 888.1,919.9 C888.6,921.9 889.1,923.8 889.6,925.7 C890.1,927.7 890.6,929.6 891.0,931.6 C891.5,933.5 892.0,935.4 892.5,937.4 C893.0,939.3 893.4,941.2 893.9,943.2 C894.4,945.1 894.9,947.0 895.4,949.0 C895.8,950.9 896.3,952.8 896.8,954.8 C897.3,956.7 897.8,958.6 898.3,960.6 C898.7,962.5 899.2,964.4 899.7,966.4 C900.2,968.3 900.7,970.2 901.2,972.1 C901.7,974.1 902.2,976.0 902.7,977.9 C903.1,979.9 903.6,981.8 904.1,983.7 C904.6,985.6 905.1,987.6 905.6,989.5 C906.2,991.4 906.7,993.3 907.2,995.3 C907.7,997.2 908.2,999.1 908.7,1001.0 C909.2,1002.9 909.7,1004.9 910.3,1006.8 C910.8,1008.7 911.3,1010.6 911.9,1012.5 C912.4,1014.4 912.9,1016.4 913.5,1018.3 C914.0,1020.2 914.5,1022.1 915.1,1024.0 C915.7,1025.9 916.2,1027.9 916.8,1029.8 C917.3,1031.7 917.9,1033.6 918.5,1035.5 C919.0,1037.4 919.6,1039.3 920.2,1041.2 C920.8,1043.1 921.4,1045.0 922.0,1047.0 C922.5,1048.9 923.1,1050.8 923.8,1052.7 C924.4,1054.6 925.0,1056.5 925.6,1058.4 C926.2,1060.3 926.8,1062.2 927.5,1064.1 C928.1,1066.0 928.8,1067.9 929.4,1069.8 C930.1,1071.7 930.7,1073.6 931.4,1075.5 C932.0,1077.4 932.7,1079.3 933.4,1081.2 C934.1,1083.1 934.8,1085.0 935.5,1086.9 C936.1,1088.8 936.9,1090.7 937.6,1092.5 C938.3,1094.4 939.0,1096.3 939.7,1098.2 C940.5,1100.1 941.2,1102.0 942.0,1103.8 C942.7,1105.7 943.5,1107.6 944.3,1109.5 C945.1,1111.3 945.8,1113.2 946.6,1115.1 C947.4,1116.9 948.3,1118.8 949.1,1120.6 C949.9,1122.5 950.7,1124.3 951.6,1126.1 C952.4,1128.0 953.3,1129.8 954.2,1131.6 C955.1,1133.4 956.0,1135.2 956.9,1137.0 C957.8,1138.9 958.7,1140.6 959.6,1142.4 C960.6,1144.2 961.5,1146.0 962.5,1147.8 C963.4,1149.5 964.4,1151.3 965.4,1153.0 C966.4,1154.8 967.5,1156.5 968.5,1158.2 C969.5,1159.9 970.6,1161.6 971.7,1163.3 C972.8,1164.9 973.9,1166.6 975.0,1168.2 C976.2,1169.8 977.3,1171.4 978.5,1173.0 C979.7,1174.6 980.9,1176.1 982.2,1177.7 C983.4,1179.2 984.7,1180.7 986.0,1182.2 C987.3,1183.6 988.6,1185.1 990.0,1186.5 C991.4,1187.9 992.8,1189.3 994.2,1190.6 C995.7,1192.0 997.1,1193.3 998.6,1194.6 C1000.1,1195.8 1001.6,1197.1 1003.2,1198.3 C1004.8,1199.5 1006.3,1200.7 1007.9,1201.9 C1009.5,1203.1 1011.2,1204.2 1012.8,1205.3 C1014.4,1206.5 1016.1,1207.6 1017.8,1208.6 C1019.5,1209.7 1021.2,1210.8 1022.9,1211.8 C1024.6,1212.9 1026.3,1213.9 1028.1,1214.9 C1029.8,1215.9 1031.6,1216.9 1033.3,1217.9 C1035.1,1218.9 1036.9,1219.9 1038.6,1220.9 C1040.4,1221.8 1042.2,1222.8 1044.0,1223.8 C1045.7,1224.7 1047.5,1225.7 1049.3,1226.6 C1051.1,1227.5 1052.9,1228.5 1054.7,1229.4 C1056.5,1230.3 1058.3,1231.3 1060.1,1232.2 C1061.9,1233.1 1063.7,1234.0 1065.5,1234.9 C1067.3,1235.8 1069.1,1236.7 1070.9,1237.6 C1072.7,1238.5 1074.5,1239.3 1076.3,1240.2 C1078.1,1241.1 1080.0,1241.9 1081.8,1242.8 C1083.6,1243.7 1085.4,1244.5 1087.2,1245.4 C1089.1,1246.2 1090.9,1247.0 1092.7,1247.9 C1094.6,1248.7 1096.4,1249.5 1098.2,1250.4 C1100.1,1251.2 1101.9,1252.0 1103.7,1252.8 C1105.6,1253.6 1107.4,1254.4 1109.3,1255.2 C1111.1,1256.0 1112.9,1256.8 1114.8,1257.5 C1116.6,1258.3 1118.5,1259.1 1120.3,1259.9 C1122.2,1260.6 1124.0,1261.4 1125.9,1262.1 C1127.7,1262.9 1129.6,1263.6 1131.5,1264.4 C1133.3,1265.1 1135.2,1265.8 1137.0,1266.6 C1138.9,1267.3 1140.8,1268.0 1142.6,1268.7 C1144.5,1269.4 1146.4,1270.1 1148.2,1270.9 C1150.1,1271.6 1152.0,1272.3 1153.9,1272.9 C1155.7,1273.6 1157.6,1274.3 1159.5,1275.0 C1161.4,1275.7 1163.2,1276.4 1165.1,1277.0 C1167.0,1277.7 1168.9,1278.4 1170.8,1279.0 C1172.7,1279.7 1174.5,1280.3 1176.4,1281.0 C1178.3,1281.6 1180.2,1282.3 1182.1,1282.9 C1184.0,1283.6 1185.9,1284.2 1187.8,1284.8 C1189.7,1285.5 1191.5,1286.1 1193.4,1286.7 C1195.3,1287.4 1197.2,1288.0 1199.1,1288.6 C1201.0,1289.2 1202.9,1289.8 1204.8,1290.4 C1206.7,1291.0 1208.6,1291.7 1210.5,1292.3 C1212.4,1292.9 1214.3,1293.5 1216.2,1294.1 C1218.1,1294.7 1220.0,1295.3 1222.0,1295.9 C1223.9,1296.4 1225.8,1297.0 1227.7,1297.6 C1229.6,1298.2 1231.5,1298.8 1233.4,1299.4 C1235.3,1300.0 1237.2,1300.6 1239.1,1301.1 C1241.0,1301.7 1243.0,1302.3 1244.9,1302.9 C1246.8,1303.4 1248.7,1304.0 1250.6,1304.6 C1252.5,1305.2 1254.4,1305.7 1256.4,1306.3 C1258.3,1306.9 1260.2,1307.4 1262.1,1308.0 C1264.0,1308.6 1265.9,1309.2 1267.9,1309.7 C1269.8,1310.3 1271.7,1310.9 1273.6,1311.4 C1275.5,1312.0 1277.5,1312.6 1279.4,1313.1 C1281.3,1313.7 1283.2,1314.2 1285.1,1314.8 C1287.1,1315.4 1289.0,1315.9 1290.9,1316.5 C1292.8,1317.1 1294.8,1317.6 1296.7,1318.2 C1298.6,1318.8 1300.5,1319.3 1302.5,1319.9 C1304.4,1320.5 1306.3,1321.1 1308.2,1321.6 C1310.2,1322.2 1312.1,1322.8 1314.0,1323.3 C1316.0,1323.9 1317.9,1324.5 1319.8,1325.1 C1321.8,1325.7 1323.7,1326.2 1325.6,1326.8 C1327.6,1327.4 1329.5,1328.0 1331.4,1328.6 C1333.4,1329.1 1335.3,1329.7 1337.2,1330.3 C1339.2,1330.9 1341.1,1331.5 1343.1,1332.0 C1345.0,1332.6 1346.9,1333.2 1348.9,1333.7 C1350.8,1334.3 1352.8,1334.8 1354.7,1335.3 C1356.6,1335.9 1358.6,1336.4 1360.5,1336.9 C1362.5,1337.4 1364.4,1337.9 1366.4,1338.4 C1368.3,1338.8 1370.3,1339.3 1372.2,1339.7 C1374.2,1340.2 1376.1,1340.6 1378.1,1341.0 C1380.0,1341.4 1382.0,1341.7 1383.9,1342.1 C1385.9,1342.5 1387.9,1342.8 1389.8,1343.1 C1391.8,1343.4 1393.7,1343.8 1395.7,1344.1 C1397.7,1344.4 1399.6,1344.6 1401.6,1344.9 C1403.5,1345.2 1405.5,1345.4 1407.5,1345.7 C1409.4,1345.9 1411.4,1346.2 1413.4,1346.4 C1415.3,1346.6 1417.3,1346.9 1419.3,1347.1 C1421.3,1347.3 1423.2,1347.5 1425.2,1347.7 C1427.2,1347.9 1429.2,1348.2 1431.1,1348.4 C1433.1,1348.6 1435.1,1348.8 1437.1,1349.0 C1439.1,1349.2 1441.0,1349.4 1443.0,1349.6 C1445.0,1349.8 1447.0,1350.0 1449.0,1350.2 C1451.0,1350.4 1453.0,1350.6 1455.0,1350.9 C1456.9,1351.1 1458.9,1351.3 1460.9,1351.5 C1462.9,1351.8 1464.9,1352.0 1466.9,1352.3 C1468.9,1352.5 1470.9,1352.8 1472.9,1353.1 C1474.9,1353.3 1476.9,1353.6 1478.9,1353.9 C1480.9,1354.2 1482.9,1354.5 1485.0,1354.9 C1487.0,1355.2 1489.0,1355.5 1491.0,1355.9 C1493.0,1356.3 1495.0,1356.7 1497.0,1357.1 C1499.0,1357.5 1501.0,1357.9 1502.9,1358.3 C1504.9,1358.8 1506.9,1359.3 1508.9,1359.8 C1510.8,1360.3 1512.8,1360.8 1514.7,1361.4 C1516.6,1361.9 1518.6,1362.5 1520.5,1363.2 C1522.4,1363.8 1524.3,1364.5 1526.2,1365.1 C1528.0,1365.8 1529.9,1366.6 1531.7,1367.3 C1533.5,1368.1 1535.4,1368.9 1537.2,1369.8 C1538.9,1370.6 1540.7,1371.5 1542.4,1372.5 C1544.2,1373.4 1545.9,1374.4 1547.6,1375.4 C1549.3,1376.5 1550.9,1377.5 1552.5,1378.7 C1554.2,1379.8 1555.8,1381.0 1557.3,1382.2 C1558.9,1383.4 1560.4,1384.6 1562.0,1385.9 C1563.5,1387.2 1565.0,1388.5 1566.5,1389.9 C1568.0,1391.2 1569.4,1392.6 1570.9,1394.0 C1572.3,1395.4 1573.8,1396.8 1575.2,1398.2 C1576.6,1399.7 1578.0,1401.1 1579.4,1402.6 C1580.9,1404.0 1582.3,1405.5 1583.7,1407.0 C1585.0,1408.5 1586.4,1410.0 1587.8,1411.5 C1589.2,1412.9 1590.6,1414.4 1592.0,1415.9 C1593.4,1417.4 1594.8,1418.9 1596.2,1420.3 C1597.6,1421.8 1599.0,1423.2 1600.4,1424.7 C1601.8,1426.1 1603.2,1427.5 1604.6,1428.9 C1606.1,1430.3 1607.5,1431.7 1609.0,1433.0 C1610.4,1434.3 1611.9,1435.7 1613.4,1436.9 C1614.9,1438.2 1616.4,1439.4 1618.0,1440.6 C1619.6,1441.8 1621.2,1443.0 1622.8,1444.1 C1624.4,1445.1 1626.1,1446.2 1627.8,1447.2 C1629.5,1448.1 1631.3,1449.0 1633.1,1449.9 C1634.9,1450.7 1636.8,1451.5 1638.7,1452.2 C1640.5,1452.9 1642.4,1453.5 1644.3,1454.0 C1646.2,1454.6 1648.1,1455.0 1650.0,1455.4 C1651.9,1455.8 1653.9,1456.1 1655.8,1456.4 C1657.7,1456.7 1659.7,1456.9 1661.6,1457.1 C1663.5,1457.3 1665.5,1457.4 1667.5,1457.5 C1669.4,1457.7 1671.4,1457.8 1673.3,1457.8 C1675.3,1457.9 1677.3,1458.0 1679.3,1458.1 C1681.2,1458.2 1683.2,1458.2 1685.2,1458.3 C1687.2,1458.4 1689.2,1458.5 1691.2,1458.5 C1693.2,1458.6 1695.2,1458.7 1697.2,1458.8 C1699.2,1458.9 1701.2,1458.9 1703.2,1459.0 C1705.2,1459.1 1707.2,1459.2 1709.2,1459.3 C1711.2,1459.4 1713.2,1459.4 1715.3,1459.5 C1717.3,1459.6 1719.3,1459.7 1721.3,1459.8 C1723.3,1459.9 1725.3,1460.0 1727.4,1460.1 C1729.4,1460.2 1731.4,1460.3 1733.4,1460.4 C1735.4,1460.5 1737.5,1460.6 1739.5,1460.7 C1741.5,1460.9 1743.5,1461.0 1745.5,1461.1 C1747.5,1461.2 1749.5,1461.3 1751.6,1461.4 C1753.6,1461.6 1755.6,1461.7 1757.6,1461.8 C1759.6,1461.9 1761.6,1462.1 1763.6,1462.2 C1765.6,1462.3 1767.6,1462.5 1769.7,1462.6 C1771.7,1462.8 1773.7,1462.9 1775.7,1463.0 C1777.7,1463.2 1779.7,1463.3 1781.7,1463.5 C1783.7,1463.7 1785.7,1463.8 1787.7,1464.0 C1789.7,1464.1 1791.7,1464.3 1793.7,1464.5 C1795.7,1464.6 1797.7,1464.8 1799.7,1465.0 C1801.7,1465.1 1803.7,1465.3 1805.7,1465.5 C1807.7,1465.7 1809.7,1465.9 1811.7,1466.1 C1813.7,1466.2 1815.7,1466.4 1817.7,1466.6 C1819.7,1466.8 1821.7,1467.0 1823.7,1467.2 C1825.7,1467.4 1827.7,1467.6 1829.7,1467.9 C1831.6,1468.1 1833.6,1468.3 1835.6,1468.5 C1837.6,1468.7 1839.6,1468.9 1841.6,1469.2 C1843.6,1469.4 1845.6,1469.6 1847.6,1469.9 C1849.6,1470.1 1851.6,1470.3 1853.5,1470.6 C1855.5,1470.8 1857.5,1471.1 1859.5,1471.3 C1861.5,1471.6 1863.5,1471.8 1865.5,1472.1 C1867.4,1472.3 1869.4,1472.6 1871.4,1472.9 C1873.4,1473.1 1875.4,1473.4 1877.4,1473.7 C1879.4,1474.0 1881.3,1474.2 1883.3,1474.5 C1885.3,1474.8 1887.3,1475.1 1889.3,1475.4 C1891.3,1475.7 1893.2,1476.0 1895.2,1476.3 C1897.2,1476.6 1899.2,1476.9 1901.2,1477.2 C1903.1,1477.5 1905.1,1477.9 1907.1,1478.2 C1909.1,1478.5 1911.1,1478.8 1913.0,1479.2 C1915.0,1479.5 1917.0,1479.8 1919.0,1480.2 C1921.0,1480.5 1922.9,1480.9 1924.9,1481.2 C1926.9,1481.6 1928.9,1481.9 1930.9,1482.3 C1932.8,1482.7 1934.8,1483.0 1936.8,1483.4 C1938.8,1483.8 1940.7,1484.2 1942.7,1484.5 C1944.7,1484.9 1946.7,1485.3 1948.7,1485.7 C1950.6,1486.1 1952.6,1486.5 1954.6,1486.8 C1956.6,1487.2 1958.5,1487.6 1960.5,1488.0 C1962.5,1488.4 1964.5,1488.8 1966.4,1489.2 C1968.4,1489.6 1970.4,1490.0 1972.4,1490.4 C1974.3,1490.8 1976.3,1491.2 1978.3,1491.6 C1980.3,1492.0 1982.2,1492.4 1984.2,1492.8 C1986.2,1493.2 1988.2,1493.6 1990.1,1494.0 C1992.1,1494.4 1994.1,1494.8 1996.1,1495.2 C1998.0,1495.6 2000.0,1495.9 2002.0,1496.3 C2004.0,1496.7 2005.9,1497.1 2007.9,1497.5 C2009.9,1497.8 2011.9,1498.2 2013.8,1498.6 C2015.8,1498.9 2017.8,1499.3 2019.8,1499.7 C2021.8,1500.0 2023.7,1500.4 2025.7,1500.7 C2027.7,1501.1 2029.7,1501.4 2031.6,1501.7 C2033.6,1502.1 2035.6,1502.4 2037.6,1502.7 C2039.5,1503.0 2041.5,1503.4 2043.5,1503.7 C2045.5,1504.0 2047.4,1504.3 2049.4,1504.5 C2051.4,1504.8 2053.4,1505.1 2055.3,1505.4 C2057.3,1505.6 2059.3,1505.9 2061.3,1506.2 C2063.3,1506.4 2065.2,1506.6 2067.2,1506.9 C2069.2,1507.1 2071.2,1507.3 2073.1,1507.5 C2075.1,1507.7 2077.1,1507.9 2079.1,1508.1 C2081.1,1508.3 2083.0,1508.5 2085.0,1508.6 C2087.0,1508.8 2089.0,1508.9 2091.0,1509.1 C2092.9,1509.2 2094.9,1509.3 2096.9,1509.5 C2098.9,1509.6 2100.9,1509.7 2102.9,1509.8 C2104.8,1509.9 2106.8,1510.0 2108.8,1510.1 C2110.8,1510.2 2112.8,1510.2 2114.8,1510.3 C2116.7,1510.4 2118.7,1510.4 2120.7,1510.5 C2122.7,1510.6 2124.7,1510.6 2126.7,1510.6 C2128.6,1510.7 2130.6,1510.7 2132.6,1510.7 C2134.6,1510.8 2136.6,1510.8 2138.6,1510.8 C2140.6,1510.8 2142.6,1510.8 2144.5,1510.8 C2146.5,1510.8 2148.5,1510.8 2150.5,1510.8 C2152.5,1510.8 2154.5,1510.8 2156.5,1510.8 C2158.5,1510.7 2160.5,1510.7 2162.5,1510.7 C2164.4,1510.7 2166.4,1510.6 2168.4,1510.6 C2170.4,1510.6 2172.4,1510.5 2174.4,1510.5 C2176.4,1510.4 2178.4,1510.4 2180.4,1510.3 C2182.4,1510.3 2184.4,1510.2 2186.4,1510.2 C2188.4,1510.1 2190.4,1510.1 2192.4,1510.0 C2194.4,1510.0 2196.4,1509.9 2198.4,1509.8 C2200.4,1509.8 2202.4,1509.7 2204.4,1509.7 C2206.4,1509.6 2208.4,1509.5 2210.4,1509.5 C2212.4,1509.4 2214.4,1509.4 2216.4,1509.3 C2218.4,1509.2 2220.4,1509.2 2222.4,1509.1 C2224.4,1509.0 2226.4,1509.0 2228.4,1508.9 C2230.5,1508.9 2232.5,1508.8 2234.5,1508.8 C2236.5,1508.7 2238.5,1508.6 2240.5,1508.6 C2242.5,1508.5 2244.5,1508.5 2246.5,1508.4 C2248.6,1508.4 2250.6,1508.4 2252.6,1508.3 C2254.6,1508.3 2256.6,1508.2 2258.6,1508.2 C2260.7,1508.2 2262.7,1508.1 2264.7,1508.1 C2266.7,1508.1 2268.7,1508.1 2270.8,1508.1 C2272.8,1508.0 2274.8,1508.0 2276.8,1508.0 C2278.8,1508.0 2280.9,1508.0 2282.9,1508.0 C2284.9,1508.0 2286.9,1508.0 2289.0,1508.1 C2291.0,1508.1 2293.0,1508.1 2295.1,1508.1 C2297.1,1508.2 2299.1,1508.2 2301.1,1508.2 C2303.2,1508.3 2305.2,1508.3 2307.2,1508.4 C2309.3,1508.5 2312.3,1508.6 2313.4,1508.6" fill="none" stroke="#ff0000" stroke-width="8.2" stroke-linejoin="round" stroke-linecap="butt"/>
<path d="M362.3,53.5 C363.2,53.7 365.9,54.1 367.7,54.5 C369.5,55.0 371.2,55.6 373.0,56.4 C374.7,57.1 376.4,57.9 378.1,58.9 C379.8,59.8 381.5,60.8 383.2,61.9 C384.8,62.9 386.5,64.1 388.1,65.2 C389.8,66.4 391.4,67.6 393.0,68.8 C394.6,70.1 396.2,71.3 397.8,72.6 C399.4,73.9 400.9,75.1 402.5,76.4 C404.1,77.7 405.6,79.0 407.2,80.4 C408.7,81.7 410.3,83.0 411.8,84.3 C413.4,85.7 414.9,87.0 416.5,88.3 C418.0,89.7 419.6,91.0 421.1,92.3 C422.7,93.7 424.2,95.0 425.8,96.3 C427.3,97.6 428.9,98.9 430.4,100.2 C432.0,101.5 433.6,102.8 435.1,104.1 C436.7,105.3 438.3,106.6 439.9,107.8 C441.5,109.0 443.1,110.2 444.7,111.4 C446.3,112.6 447.9,113.7 449.6,114.9 C451.2,116.0 452.9,117.1 454.5,118.2 C456.2,119.2 457.9,120.3 459.6,121.3 C461.2,122.4 462.9,123.4 464.6,124.3 C466.4,125.3 468.1,126.3 469.8,127.2 C471.5,128.2 473.3,129.1 475.0,130.0 C476.8,130.9 478.5,131.7 480.3,132.6 C482.1,133.4 483.9,134.3 485.7,135.1 C487.5,135.9 489.3,136.7 491.1,137.5 C492.9,138.2 494.7,139.0 496.5,139.7 C498.4,140.4 500.2,141.1 502.0,141.8 C503.9,142.5 505.7,143.2 507.6,143.8 C509.5,144.5 511.3,145.1 513.2,145.8 C515.1,146.4 517.0,147.0 518.9,147.6 C520.8,148.1 522.7,148.7 524.6,149.3 C526.5,149.8 528.4,150.3 530.4,150.9 C532.3,151.4 534.2,151.9 536.2,152.4 C538.1,152.9 540.1,153.3 542.0,153.8 C544.0,154.2 545.9,154.7 547.9,155.1 C549.9,155.5 551.8,156.0 553.8,156.4 C555.8,156.8 557.8,157.2 559.8,157.5 C561.8,157.9 563.8,158.3 565.8,158.6 C567.8,159.0 569.8,159.3 571.8,159.6 C573.8,160.0 575.8,160.3 577.8,160.6 C579.9,160.9 581.9,161.2 583.9,161.5 C586.0,161.7 588.0,162.0 590.0,162.3 C592.1,162.5 594.1,162.8 596.2,163.0 C598.2,163.3 600.3,163.5 602.3,163.8 C604.4,164.0 606.4,164.2 608.5,164.4 C610.5,164.7 612.6,164.9 614.6,165.1 C616.7,165.4 618.7,165.6 620.8,165.9 C622.8,166.1 624.9,166.3 626.9,166.6 C628.9,166.9 631.0,167.2 633.0,167.4 C635.0,167.7 637.0,168.0 639.0,168.4 C641.0,168.7 643.0,169.0 645.0,169.4 C647.0,169.8 649.0,170.2 650.9,170.6 C652.9,171.0 654.8,171.5 656.8,171.9 C658.7,172.4 660.6,172.9 662.5,173.5 C664.4,174.0 666.3,174.6 668.2,175.2 C670.1,175.9 671.9,176.5 673.7,177.2 C675.6,177.9 677.4,178.7 679.2,179.5 C681.0,180.2 682.7,181.1 684.5,182.0 C686.2,182.9 687.9,183.8 689.6,184.8 C691.3,185.8 693.0,186.8 694.7,187.9 C696.3,189.0 697.9,190.2 699.5,191.4 C701.1,192.6 702.7,193.9 704.2,195.1 C705.7,196.4 707.2,197.8 708.7,199.1 C710.2,200.5 711.6,201.9 713.0,203.4 C714.4,204.8 715.8,206.3 717.1,207.8 C718.5,209.3 719.8,210.8 721.0,212.4 C722.3,213.9 723.5,215.5 724.7,217.1 C725.9,218.7 727.0,220.4 728.1,222.0 C729.2,223.6 730.3,225.3 731.3,227.0 C732.4,228.6 733.4,230.3 734.3,232.0 C735.3,233.7 736.2,235.5 737.2,237.2 C738.1,238.9 738.9,240.7 739.8,242.4 C740.7,244.2 741.5,246.0 742.3,247.7 C743.1,249.5 743.9,251.3 744.7,253.1 C745.5,254.9 746.2,256.7 747.0,258.6 C747.7,260.4 748.5,262.2 749.2,264.1 C749.9,265.9 750.7,267.8 751.4,269.7 C752.1,271.5 752.8,273.4 753.5,275.3 C754.1,277.1 754.8,279.0 755.5,280.9 C756.2,282.8 756.8,284.7 757.5,286.6 C758.1,288.5 758.8,290.4 759.4,292.3 C760.1,294.2 760.7,296.2 761.3,298.1 C761.9,300.0 762.6,301.9 763.2,303.8 C763.8,305.8 764.4,307.7 765.0,309.6 C765.6,311.5 766.2,313.5 766.9,315.4 C767.5,317.3 768.1,319.3 768.7,321.2 C769.3,323.1 769.8,325.0 770.4,327.0 C771.0,328.9 771.6,330.8 772.2,332.8 C772.8,334.7 773.4,336.6 774.0,338.6 C774.6,340.5 775.1,342.4 775.7,344.4 C776.3,346.3 776.9,348.2 777.4,350.2 C778.0,352.1 778.6,354.0 779.1,356.0 C779.7,357.9 780.3,359.8 780.8,361.8 C781.4,363.7 782.0,365.6 782.5,367.6 C783.1,369.5 783.6,371.4 784.2,373.4 C784.7,375.3 785.3,377.2 785.8,379.2 C786.4,381.1 786.9,383.0 787.5,385.0 C788.0,386.9 788.5,388.8 789.1,390.8 C789.6,392.7 790.1,394.7 790.7,396.6 C791.2,398.5 791.7,400.5 792.3,402.4 C792.8,404.3 793.3,406.3 793.9,408.2 C794.4,410.2 794.9,412.1 795.4,414.0 C795.9,416.0 796.5,417.9 797.0,419.9 C797.5,421.8 798.0,423.7 798.5,425.7 C799.0,427.6 799.5,429.6 800.0,431.5 C800.5,433.4 801.1,435.4 801.6,437.3 C802.1,439.3 802.6,441.2 803.1,443.2 C803.6,445.1 804.1,447.0 804.6,449.0 C805.0,450.9 805.5,452.9 806.0,454.8 C806.5,456.8 807.0,458.7 807.5,460.7 C808.0,462.6 808.5,464.5 809.0,466.5 C809.4,468.4 809.9,470.4 810.4,472.3 C810.9,474.3 811.4,476.2 811.8,478.2 C812.3,480.1 812.8,482.0 813.3,484.0 C813.7,485.9 814.2,487.9 814.7,489.8 C815.2,491.8 815.6,493.7 816.1,495.7 C816.6,497.6 817.0,499.6 817.5,501.5 C817.9,503.5 818.4,505.4 818.9,507.4 C819.3,509.3 819.8,511.3 820.2,513.2 C820.7,515.2 821.2,517.1 821.6,519.1 C822.1,521.0 822.5,523.0 823.0,524.9 C823.4,526.9 823.9,528.8 824.3,530.8 C824.8,532.7 825.2,534.7 825.7,536.6 C826.1,538.6 826.6,540.5 827.0,542.5 C827.4,544.4 827.9,546.4 828.3,548.3 C828.8,550.3 829.2,552.2 829.6,554.2 C830.1,556.1 830.5,558.1 831.0,560.0 C831.4,562.0 831.8,563.9 832.3,565.9 C832.7,567.9 833.1,569.8 833.6,571.8 C834.0,573.7 834.4,575.7 834.8,577.6 C835.3,579.6 835.7,581.5 836.1,583.5 C836.5,585.4 837.0,587.4 837.4,589.3 C837.8,591.3 838.2,593.3 838.7,595.2 C839.1,597.2 839.5,599.1 839.9,601.1 C840.4,603.0 840.8,605.0 841.2,607.0 C841.6,608.9 842.0,610.9 842.4,612.8 C842.9,614.8 843.3,616.7 843.7,618.7 C844.1,620.6 844.5,622.6 844.9,624.6 C845.3,626.5 845.8,628.5 846.2,630.4 C846.6,632.4 847.0,634.4 847.4,636.3 C847.8,638.3 848.2,640.2 848.6,642.2 C849.0,644.1 849.5,646.1 849.9,648.1 C850.3,650.0 850.7,652.0 851.1,653.9 C851.5,655.9 851.9,657.9 852.3,659.8 C852.7,661.8 853.1,663.7 853.5,665.7 C853.9,667.7 854.3,669.6 854.7,671.6 C855.1,673.5 855.5,675.5 855.9,677.5 C856.3,679.4 856.7,681.4 857.1,683.3 C857.5,685.3 857.9,687.3 858.3,689.2 C858.7,691.2 859.1,693.2 859.5,695.1 C859.9,697.1 860.3,699.0 860.7,701.0 C861.1,703.0 861.5,704.9 861.9,706.9 C862.3,708.9 862.7,710.8 863.1,712.8 C863.5,714.7 863.9,716.7 864.3,718.7 C864.7,720.6 865.1,722.6 865.5,724.6 C865.9,726.5 866.3,728.5 866.7,730.4 C867.1,732.4 867.5,734.4 867.9,736.3 C868.3,738.3 868.7,740.3 869.0,742.2 C869.4,744.2 869.8,746.2 870.2,748.1 C870.6,750.1 871.0,752.0 871.4,754.0 C871.8,756.0 872.2,757.9 872.6,759.9 C873.0,761.9 873.4,763.8 873.7,765.8 C874.1,767.8 874.5,769.7 874.9,771.7 C875.3,773.7 875.7,775.6 876.1,777.6 C876.5,779.6 876.9,781.5 877.2,783.5 C877.6,785.5 878.0,787.4 878.4,789.4 C878.8,791.4 879.2,793.3 879.6,795.3 C880.0,797.3 880.4,799.2 880.7,801.2 C881.1,803.2 881.5,805.1 881.9,807.1 C882.3,809.1 882.7,811.0 883.1,813.0 C883.4,815.0 883.8,816.9 884.2,818.9 C884.6,820.9 885.0,822.8 885.4,824.8 C885.8,826.8 886.1,828.7 886.5,830.7 C886.9,832.7 887.3,834.6 887.7,836.6 C888.1,838.6 888.5,840.5 888.8,842.5 C889.2,844.5 889.6,846.4 890.0,848.4 C890.4,850.4 890.8,852.3 891.1,854.3 C891.5,856.3 891.9,858.2 892.3,860.2 C892.7,862.2 893.1,864.1 893.4,866.1 C893.8,868.1 894.2,870.0 894.6,872.0 C895.0,874.0 895.4,876.0 895.7,877.9 C896.1,879.9 896.5,881.9 896.9,883.8 C897.3,885.8 897.7,887.8 898.0,889.7 C898.4,891.7 898.8,893.7 899.2,895.6 C899.6,897.6 900.0,899.6 900.3,901.5 C900.7,903.5 901.1,905.5 901.5,907.5 C901.9,909.4 902.3,911.4 902.6,913.4 C903.0,915.3 903.4,917.3 903.8,919.3 C904.2,921.2 904.6,923.2 904.9,925.2 C905.3,927.1 905.7,929.1 906.1,931.1 C906.5,933.0 906.9,935.0 907.2,937.0 C907.6,939.0 908.0,940.9 908.4,942.9 C908.8,944.9 909.2,946.8 909.5,948.8 C909.9,950.8 910.3,952.7 910.7,954.7 C911.1,956.7 911.5,958.7 911.8,960.6 C912.2,962.6 912.6,964.6 913.0,966.5 C913.4,968.5 913.8,970.5 914.1,972.4 C914.5,974.4 914.9,976.4 915.3,978.3 C915.7,980.3 916.1,982.3 916.4,984.3 C916.8,986.2 917.2,988.2 917.6,990.2 C918.0,992.1 918.4,994.1 918.8,996.1 C919.1,998.0 919.5,1000.0 919.9,1002.0 C920.3,1004.0 920.7,1005.9 921.1,1007.9 C921.5,1009.9 921.8,1011.8 922.2,1013.8 C922.6,1015.8 923.0,1017.7 923.4,1019.7 C923.8,1021.7 924.2,1023.6 924.6,1025.6 C924.9,1027.6 925.3,1029.6 925.7,1031.5 C926.1,1033.5 926.5,1035.5 926.9,1037.4 C927.3,1039.4 927.7,1041.4 928.1,1043.3 C928.5,1045.3 928.9,1047.3 929.2,1049.2 C929.6,1051.2 930.0,1053.1 930.4,1055.1 C930.8,1057.1 931.2,1059.0 931.6,1061.0 C932.0,1063.0 932.4,1064.9 932.8,1066.9 C933.2,1068.8 933.6,1070.8 934.0,1072.8 C934.4,1074.7 934.8,1076.7 935.2,1078.6 C935.6,1080.6 936.0,1082.5 936.4,1084.5 C936.8,1086.4 937.2,1088.4 937.6,1090.3 C938.1,1092.3 938.5,1094.3 938.9,1096.2 C939.3,1098.2 939.7,1100.1 940.1,1102.1 C940.5,1104.0 940.9,1106.0 941.4,1107.9 C941.8,1109.9 942.2,1111.8 942.6,1113.8 C943.0,1115.7 943.4,1117.7 943.9,1119.6 C944.3,1121.6 944.7,1123.5 945.1,1125.4 C945.6,1127.4 946.0,1129.3 946.4,1131.3 C946.8,1133.2 947.3,1135.2 947.7,1137.1 C948.1,1139.1 948.6,1141.0 949.0,1143.0 C949.5,1144.9 949.9,1146.9 950.3,1148.9 C950.8,1150.8 951.2,1152.8 951.7,1154.7 C952.1,1156.7 952.6,1158.6 953.0,1160.6 C953.5,1162.5 953.9,1164.5 954.4,1166.4 C954.8,1168.4 955.3,1170.4 955.7,1172.3 C956.2,1174.3 956.6,1176.2 957.1,1178.2 C957.6,1180.2 958.0,1182.1 958.5,1184.1 C959.0,1186.0 959.5,1188.0 960.0,1190.0 C960.4,1191.9 960.9,1193.9 961.4,1195.8 C961.9,1197.8 962.4,1199.7 962.9,1201.7 C963.5,1203.6 964.0,1205.6 964.5,1207.5 C965.1,1209.5 965.6,1211.4 966.2,1213.4 C966.7,1215.3 967.3,1217.2 967.9,1219.2 C968.4,1221.1 969.0,1223.0 969.6,1224.9 C970.2,1226.8 970.8,1228.8 971.5,1230.7 C972.1,1232.6 972.8,1234.5 973.4,1236.4 C974.1,1238.2 974.8,1240.1 975.5,1242.0 C976.2,1243.9 976.9,1245.8 977.6,1247.6 C978.3,1249.5 979.1,1251.3 979.9,1253.2 C980.6,1255.0 981.4,1256.8 982.3,1258.6 C983.1,1260.4 984.0,1262.2 984.8,1264.0 C985.7,1265.8 986.7,1267.5 987.6,1269.3 C988.6,1271.0 989.6,1272.7 990.6,1274.4 C991.7,1276.0 992.8,1277.7 993.9,1279.3 C995.1,1280.9 996.3,1282.5 997.5,1284.0 C998.8,1285.6 1000.1,1287.1 1001.5,1288.5 C1002.8,1290.0 1004.3,1291.4 1005.8,1292.8 C1007.2,1294.2 1008.8,1295.5 1010.3,1296.9 C1011.9,1298.2 1013.5,1299.5 1015.1,1300.7 C1016.7,1302.0 1018.3,1303.2 1019.9,1304.4 C1021.6,1305.6 1023.2,1306.8 1024.9,1308.0 C1026.5,1309.1 1028.2,1310.3 1029.9,1311.4 C1031.6,1312.5 1033.2,1313.6 1034.9,1314.6 C1036.6,1315.7 1038.3,1316.8 1040.1,1317.8 C1041.8,1318.8 1043.5,1319.8 1045.2,1320.8 C1047.0,1321.8 1048.7,1322.7 1050.4,1323.7 C1052.2,1324.6 1053.9,1325.6 1055.7,1326.5 C1057.5,1327.4 1059.3,1328.3 1061.0,1329.1 C1062.8,1330.0 1064.6,1330.9 1066.4,1331.7 C1068.2,1332.5 1070.0,1333.4 1071.8,1334.2 C1073.6,1335.0 1075.4,1335.8 1077.3,1336.5 C1079.1,1337.3 1080.9,1338.1 1082.8,1338.8 C1084.6,1339.6 1086.4,1340.3 1088.3,1341.0 C1090.1,1341.7 1092.0,1342.4 1093.8,1343.1 C1095.7,1343.8 1097.6,1344.5 1099.4,1345.2 C1101.3,1345.8 1103.2,1346.5 1105.1,1347.1 C1107.0,1347.8 1108.8,1348.4 1110.7,1349.0 C1112.6,1349.7 1114.5,1350.3 1116.4,1350.9 C1118.3,1351.5 1120.2,1352.1 1122.1,1352.7 C1124.1,1353.3 1126.0,1353.8 1127.9,1354.4 C1129.8,1355.0 1131.7,1355.6 1133.6,1356.1 C1135.6,1356.7 1137.5,1357.2 1139.4,1357.8 C1141.3,1358.3 1143.3,1358.9 1145.2,1359.4 C1147.1,1359.9 1149.1,1360.5 1151.0,1361.0 C1153.0,1361.5 1154.9,1362.1 1156.8,1362.6 C1158.8,1363.1 1160.7,1363.6 1162.7,1364.1 C1164.6,1364.7 1166.6,1365.2 1168.5,1365.7 C1170.5,1366.2 1172.4,1366.7 1174.4,1367.2 C1176.3,1367.7 1178.3,1368.2 1180.2,1368.8 C1182.2,1369.3 1184.1,1369.8 1186.1,1370.3 C1188.0,1370.8 1190.0,1371.3 1191.9,1371.8 C1193.9,1372.4 1195.9,1372.9 1197.8,1373.4 C1199.8,1373.9 1201.7,1374.4 1203.7,1375.0 C1205.6,1375.5 1207.6,1376.0 1209.5,1376.6 C1211.5,1377.1 1213.4,1377.6 1215.3,1378.2 C1217.3,1378.7 1219.2,1379.3 1221.2,1379.9 C1223.1,1380.4 1225.1,1381.0 1227.0,1381.5 C1228.9,1382.1 1230.9,1382.7 1232.8,1383.3 C1234.8,1383.8 1236.7,1384.4 1238.6,1385.0 C1240.6,1385.6 1242.5,1386.2 1244.4,1386.8 C1246.4,1387.4 1248.3,1387.9 1250.2,1388.5 C1252.1,1389.1 1254.1,1389.7 1256.0,1390.3 C1257.9,1390.9 1259.9,1391.5 1261.8,1392.1 C1263.7,1392.7 1265.6,1393.3 1267.6,1393.9 C1269.5,1394.5 1271.4,1395.1 1273.3,1395.6 C1275.2,1396.2 1277.2,1396.8 1279.1,1397.4 C1281.0,1398.0 1282.9,1398.6 1284.9,1399.1 C1286.8,1399.7 1288.7,1400.3 1290.6,1400.8 C1292.6,1401.4 1294.5,1402.0 1296.4,1402.5 C1298.3,1403.1 1300.2,1403.6 1302.2,1404.2 C1304.1,1404.7 1306.0,1405.3 1307.9,1405.8 C1309.9,1406.3 1311.8,1406.8 1313.7,1407.3 C1315.6,1407.9 1317.6,1408.4 1319.5,1408.9 C1321.4,1409.3 1323.3,1409.8 1325.3,1410.3 C1327.2,1410.8 1329.1,1411.2 1331.0,1411.7 C1333.0,1412.2 1334.9,1412.6 1336.8,1413.0 C1338.8,1413.5 1340.7,1413.9 1342.6,1414.3 C1344.6,1414.7 1346.5,1415.1 1348.4,1415.5 C1350.4,1415.9 1352.3,1416.3 1354.2,1416.7 C1356.2,1417.1 1358.1,1417.4 1360.1,1417.8 C1362.0,1418.2 1364.0,1418.5 1365.9,1418.9 C1367.8,1419.2 1369.8,1419.5 1371.7,1419.9 C1373.7,1420.2 1375.6,1420.5 1377.6,1420.8 C1379.5,1421.1 1381.5,1421.4 1383.5,1421.7 C1385.4,1422.0 1387.4,1422.3 1389.3,1422.6 C1391.3,1422.9 1393.3,1423.2 1395.2,1423.4 C1397.2,1423.7 1399.2,1424.0 1401.1,1424.2 C1403.1,1424.5 1405.1,1424.7 1407.1,1425.0 C1409.0,1425.2 1411.0,1425.5 1413.0,1425.7 C1415.0,1426.0 1417.0,1426.2 1419.0,1426.4 C1421.0,1426.6 1423.0,1426.8 1424.9,1427.1 C1426.9,1427.3 1428.9,1427.5 1430.9,1427.7 C1432.9,1427.9 1435.0,1428.1 1437.0,1428.3 C1439.0,1428.5 1441.0,1428.7 1443.0,1428.9 C1445.0,1429.1 1447.0,1429.2 1449.1,1429.4 C1451.1,1429.6 1453.1,1429.8 1455.1,1429.9 C1457.2,1430.1 1459.2,1430.3 1461.2,1430.5 C1463.3,1430.6 1465.3,1430.8 1467.4,1431.0 C1469.4,1431.1 1471.5,1431.3 1473.5,1431.4 C1475.6,1431.6 1477.6,1431.8 1479.7,1432.0 C1481.7,1432.1 1483.8,1432.3 1485.8,1432.5 C1487.8,1432.7 1489.9,1432.9 1491.9,1433.1 C1494.0,1433.3 1496.0,1433.6 1498.0,1433.8 C1500.0,1434.1 1502.0,1434.3 1504.0,1434.6 C1506.0,1434.9 1508.0,1435.2 1510.0,1435.5 C1512.0,1435.9 1514.0,1436.2 1515.9,1436.6 C1517.9,1437.0 1519.8,1437.4 1521.7,1437.9 C1523.7,1438.4 1525.6,1438.8 1527.4,1439.4 C1529.3,1439.9 1531.2,1440.4 1533.1,1441.0 C1534.9,1441.6 1536.7,1442.2 1538.6,1442.9 C1540.4,1443.6 1542.2,1444.3 1544.0,1445.0 C1545.8,1445.7 1547.5,1446.5 1549.3,1447.2 C1551.1,1448.0 1552.8,1448.8 1554.6,1449.7 C1556.3,1450.5 1558.1,1451.4 1559.8,1452.3 C1561.6,1453.2 1563.3,1454.1 1565.0,1455.1 C1566.7,1456.1 1568.4,1457.0 1570.1,1458.0 C1571.9,1459.0 1573.6,1460.1 1575.3,1461.1 C1577.0,1462.2 1578.7,1463.3 1580.4,1464.3 C1582.1,1465.4 1583.8,1466.5 1585.5,1467.7 C1587.2,1468.8 1588.9,1469.9 1590.7,1471.1 C1592.4,1472.2 1594.1,1473.4 1595.8,1474.6 C1597.5,1475.7 1599.3,1476.9 1601.0,1478.1 C1602.8,1479.3 1604.5,1480.4 1606.2,1481.6 C1608.0,1482.8 1609.7,1483.9 1611.5,1485.0 C1613.3,1486.2 1615.0,1487.3 1616.8,1488.4 C1618.6,1489.5 1620.4,1490.5 1622.1,1491.6 C1623.9,1492.6 1625.7,1493.6 1627.5,1494.6 C1629.3,1495.5 1631.1,1496.4 1632.9,1497.3 C1634.8,1498.1 1636.6,1499.0 1638.4,1499.7 C1640.2,1500.5 1642.1,1501.2 1643.9,1501.8 C1645.7,1502.4 1647.6,1503.0 1649.4,1503.5 C1651.3,1504.0 1653.1,1504.5 1655.0,1504.9 C1656.9,1505.3 1658.8,1505.6 1660.6,1506.0 C1662.5,1506.3 1664.4,1506.6 1666.3,1506.8 C1668.2,1507.1 1670.1,1507.3 1672.0,1507.5 C1673.9,1507.7 1675.9,1507.8 1677.8,1508.0 C1679.7,1508.1 1681.6,1508.2 1683.6,1508.3 C1685.5,1508.4 1687.5,1508.5 1689.4,1508.5 C1691.4,1508.6 1693.3,1508.6 1695.3,1508.6 C1697.2,1508.7 1699.2,1508.7 1701.2,1508.7 C1703.2,1508.7 1705.1,1508.7 1707.1,1508.7 C1709.1,1508.7 1711.1,1508.7 1713.1,1508.7 C1715.1,1508.7 1717.1,1508.7 1719.1,1508.7 C1721.1,1508.7 1723.1,1508.6 1725.1,1508.7 C1727.1,1508.7 1729.1,1508.7 1731.1,1508.7 C1733.1,1508.7 1735.1,1508.8 1737.1,1508.9 C1739.2,1508.9 1741.2,1509.0 1743.2,1509.1 C1745.2,1509.2 1747.3,1509.3 1749.3,1509.4 C1751.3,1509.5 1753.3,1509.7 1755.4,1509.8 C1757.4,1510.0 1759.4,1510.1 1761.5,1510.3 C1763.5,1510.4 1765.5,1510.6 1767.6,1510.8 C1769.6,1511.0 1771.6,1511.1 1773.7,1511.3 C1775.7,1511.5 1777.8,1511.7 1779.8,1511.9 C1781.8,1512.1 1783.9,1512.2 1785.9,1512.4 C1787.9,1512.6 1790.0,1512.8 1792.0,1513.0 C1794.0,1513.1 1796.1,1513.3 1798.1,1513.5 C1800.1,1513.6 1802.2,1513.8 1804.2,1513.9 C1806.2,1514.1 1808.3,1514.2 1810.3,1514.3 C1812.3,1514.5 1814.3,1514.6 1816.4,1514.7 C1818.4,1514.8 1820.4,1514.9 1822.4,1515.0 C1824.5,1515.1 1826.5,1515.2 1828.5,1515.3 C1830.5,1515.4 1832.6,1515.5 1834.6,1515.6 C1836.6,1515.7 1838.6,1515.7 1840.6,1515.8 C1842.6,1515.9 1844.7,1516.0 1846.7,1516.0 C1848.7,1516.1 1850.7,1516.2 1852.7,1516.2 C1854.7,1516.3 1856.7,1516.3 1858.7,1516.4 C1860.8,1516.5 1862.8,1516.5 1864.8,1516.6 C1866.8,1516.6 1868.8,1516.7 1870.8,1516.7 C1872.8,1516.8 1874.8,1516.8 1876.8,1516.9 C1878.8,1516.9 1880.8,1517.0 1882.8,1517.0 C1884.8,1517.1 1886.8,1517.1 1888.8,1517.2 C1890.8,1517.2 1892.8,1517.3 1894.8,1517.4 C1896.8,1517.4 1898.8,1517.5 1900.8,1517.5 C1902.8,1517.6 1904.8,1517.7 1906.8,1517.7 C1908.8,1517.8 1910.8,1517.9 1912.8,1518.0 C1914.8,1518.0 1916.8,1518.1 1918.8,1518.2 C1920.8,1518.3 1922.8,1518.4 1924.8,1518.5 C1926.7,1518.6 1928.7,1518.7 1930.7,1518.8 C1932.7,1518.9 1934.7,1519.0 1936.7,1519.1 C1938.7,1519.2 1940.7,1519.3 1942.7,1519.5 C1944.7,1519.6 1946.6,1519.7 1948.6,1519.9 C1950.6,1520.0 1952.6,1520.2 1954.6,1520.4 C1956.6,1520.5 1958.6,1520.7 1960.5,1520.9 C1962.5,1521.1 1964.5,1521.3 1966.5,1521.5 C1968.5,1521.7 1970.5,1521.9 1972.5,1522.1 C1974.4,1522.3 1976.4,1522.5 1978.4,1522.8 C1980.4,1523.0 1982.4,1523.3 1984.3,1523.5 C1986.3,1523.8 1988.3,1524.1 1990.3,1524.4 C1992.3,1524.6 1994.3,1524.9 1996.2,1525.2 C1998.2,1525.5 2000.2,1525.8 2002.2,1526.2 C2004.2,1526.5 2006.1,1526.8 2008.1,1527.1 C2010.1,1527.4 2012.1,1527.8 2014.1,1528.1 C2016.0,1528.5 2018.0,1528.8 2020.0,1529.1 C2022.0,1529.5 2023.9,1529.8 2025.9,1530.2 C2027.9,1530.6 2029.9,1530.9 2031.9,1531.3 C2033.8,1531.6 2035.8,1532.0 2037.8,1532.4 C2039.8,1532.7 2041.8,1533.1 2043.7,1533.5 C2045.7,1533.8 2047.7,1534.2 2049.7,1534.6 C2051.6,1534.9 2053.6,1535.3 2055.6,1535.6 C2057.6,1536.0 2059.6,1536.4 2061.5,1536.7 C2063.5,1537.1 2065.5,1537.4 2067.5,1537.8 C2069.4,1538.1 2071.4,1538.5 2073.4,1538.8 C2075.4,1539.2 2077.4,1539.5 2079.3,1539.8 C2081.3,1540.2 2083.3,1540.5 2085.3,1540.8 C2087.2,1541.1 2089.2,1541.5 2091.2,1541.8 C2093.2,1542.1 2095.2,1542.4 2097.1,1542.7 C2099.1,1543.0 2101.1,1543.2 2103.1,1543.5 C2105.1,1543.8 2107.0,1544.0 2109.0,1544.3 C2111.0,1544.5 2113.0,1544.8 2115.0,1545.0 C2116.9,1545.3 2118.9,1545.5 2120.9,1545.7 C2122.9,1545.9 2124.9,1546.1 2126.9,1546.3 C2128.8,1546.4 2130.8,1546.6 2132.8,1546.8 C2134.8,1546.9 2136.8,1547.1 2138.8,1547.2 C2140.7,1547.4 2142.7,1547.5 2144.7,1547.6 C2146.7,1547.7 2148.7,1547.8 2150.7,1547.9 C2152.7,1548.0 2154.6,1548.1 2156.6,1548.2 C2158.6,1548.3 2160.6,1548.4 2162.6,1548.4 C2164.6,1548.5 2166.6,1548.5 2168.6,1548.6 C2170.6,1548.6 2172.5,1548.7 2174.5,1548.7 C2176.5,1548.7 2178.5,1548.8 2180.5,1548.8 C2182.5,1548.8 2184.5,1548.8 2186.5,1548.8 C2188.5,1548.9 2190.5,1548.9 2192.5,1548.9 C2194.5,1548.9 2196.5,1548.8 2198.5,1548.8 C2200.4,1548.8 2202.4,1548.8 2204.4,1548.8 C2206.4,1548.8 2208.4,1548.7 2210.4,1548.7 C2212.4,1548.7 2214.4,1548.7 2216.4,1548.6 C2218.4,1548.6 2220.4,1548.6 2222.4,1548.5 C2224.4,1548.5 2226.5,1548.4 2228.5,1548.4 C2230.5,1548.4 2232.5,1548.3 2234.5,1548.3 C2236.5,1548.2 2238.5,1548.2 2240.5,1548.2 C2242.5,1548.1 2244.5,1548.1 2246.5,1548.0 C2248.5,1548.0 2250.5,1547.9 2252.6,1547.9 C2254.6,1547.9 2256.6,1547.8 2258.6,1547.8 C2260.6,1547.8 2262.6,1547.7 2264.6,1547.7 C2266.7,1547.7 2268.7,1547.7 2270.7,1547.6 C2272.7,1547.6 2274.7,1547.6 2276.7,1547.6 C2278.8,1547.6 2280.8,1547.6 2282.8,1547.6 C2284.8,1547.6 2286.9,1547.6 2288.9,1547.6 C2290.9,1547.6 2292.9,1547.6 2295.0,1547.6 C2297.0,1547.6 2299.0,1547.7 2301.1,1547.7 C2303.1,1547.7 2305.1,1547.8 2307.1,1547.8 C2309.2,1547.9 2312.2,1548.0 2313.3,1548.0" fill="none" stroke="#0000ff" stroke-width="8.2" stroke-linejoin="round" stroke-linecap="butt"/>
<text x="266.5" y="1689.0" font-size="77" font-weight="bold" text-anchor="end">0</text>
<text x="266.5" y="1365.6" font-size="77" font-weight="bold" text-anchor="end">20</text>
<text x="266.5" y="1042.2" font-size="77" font-weight="bold" text-anchor="end">40</text>
<text x="266.5" y="718.8" font-size="77" font-weight="bold" text-anchor="end">60</text>
<text x="266.5" y="395.4" font-size="77" font-weight="bold" text-anchor="end">80</text>
<text x="266.5" y="72.0" font-size="77" font-weight="bold" text-anchor="end">100</text>
<text x="473.6" y="1782.5" font-size="77" font-weight="bold" text-anchor="middle">100</text>
<text x="677.9" y="1782.5" font-size="77" font-weight="bold" text-anchor="middle">200</text>
<text x="882.3" y="1782.5" font-size="77" font-weight="bold" text-anchor="middle">300</text>
<text x="1086.6" y="1782.5" font-size="77" font-weight="bold" text-anchor="middle">400</text>
<text x="1291.0" y="1782.5" font-size="77" font-weight="bold" text-anchor="middle">500</text>
<text x="1495.4" y="1782.5" font-size="77" font-weight="bold" text-anchor="middle">600</text>
<text x="1699.7" y="1782.5" font-size="77" font-weight="bold" text-anchor="middle">700</text>
<text x="1904.1" y="1782.5" font-size="77" font-weight="bold" text-anchor="middle">800</text>
<text x="2108.4" y="1782.5" font-size="77" font-weight="bold" text-anchor="middle">900</text>
<text x="2312.8" y="1782.5" font-size="77" font-weight="bold" text-anchor="middle">1000</text>
<text x="926" y="1952" font-size="97" font-weight="bold">Temperature<tspan dx="3.5"> (</tspan><tspan dx="1.0" dy="-52" font-size="59" font-weight="normal">o</tspan><tspan dx="1.2" dy="52">C</tspan><tspan dx="1.4">)</tspan></text>
<text transform="translate(94.5,894.5) rotate(-90)" font-size="98.6" font-weight="bold" text-anchor="middle">Weight loss %</text>
<line x1="1875" y1="143.8" x2="2047.8" y2="143.8" stroke="#000" stroke-width="8.2" stroke-linecap="round"/>
<text x="2068" y="170.3" font-size="80">B</text>
<line x1="1875" y1="239.3" x2="2047.8" y2="239.3" stroke="#ff0000" stroke-width="8.2" stroke-linecap="round"/>
<text x="2068" y="265.8" font-size="80">M9b</text>
<line x1="1875" y1="334.8" x2="2047.8" y2="334.8" stroke="#0000ff" stroke-width="8.2" stroke-linecap="round"/>
<text x="2068" y="361.3" font-size="80">M9g</text>
<text x="356" y="328.4" font-size="80">stage<tspan dx="-3"> I</tspan></text>
<text x="414.5" y="799.6" font-size="80">stage<tspan dx="-3.5"> I</tspan><tspan dx="-0.8">I</tspan></text>
<text x="690" y="1441" font-size="80">stage<tspan dx="-2.5"> I</tspan><tspan dx="-0.8">I</tspan><tspan dx="-0.8">I</tspan></text>
</svg></body></html>
